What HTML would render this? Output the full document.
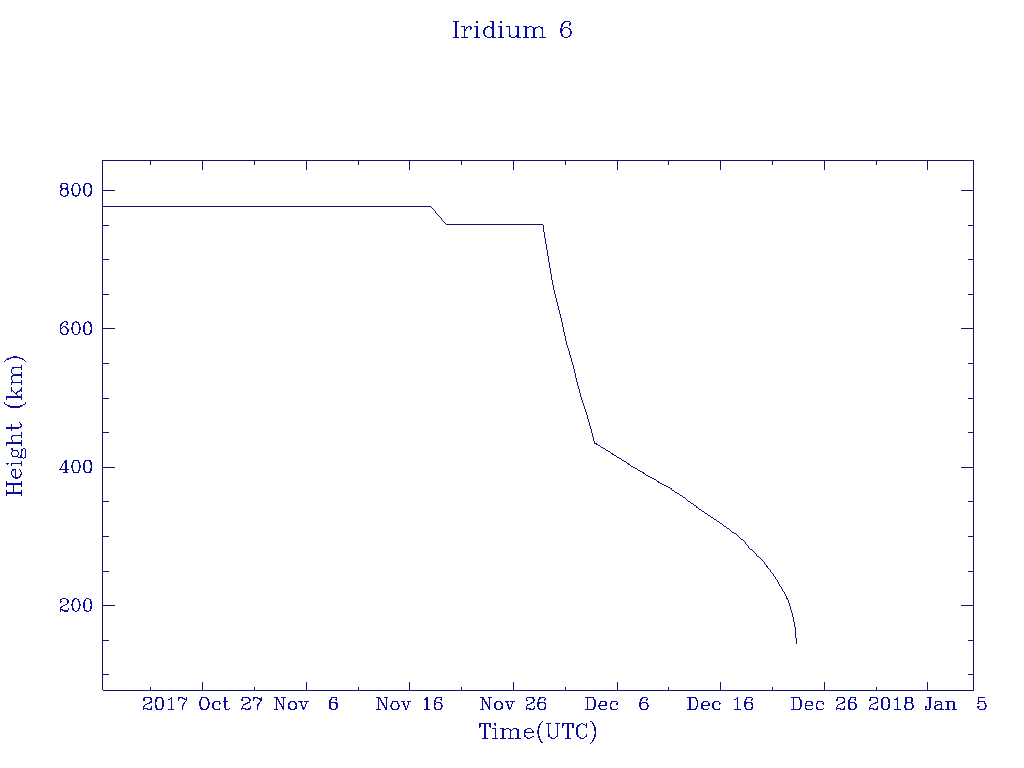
<!DOCTYPE html>
<html><head><meta charset="utf-8"><title>Iridium 6</title>
<style>
html,body{margin:0;padding:0;background:#fff;}
body{width:1024px;height:768px;overflow:hidden;position:relative;font-family:"Liberation Serif",serif;}
svg{position:absolute;left:0;top:0;}
.t span{position:absolute;color:transparent;white-space:pre;line-height:1;overflow:hidden;}
</style></head><body>
<svg width="1024" height="768" viewBox="0 0 1024 768">
<rect width="1024" height="768" fill="#fff"/>
<g fill="none" stroke="#141070" stroke-width="1" stroke-linecap="square" shape-rendering="crispEdges">
<path d="M102.5 160V690 M102 160.5H974 M973.5 160V691 M103 690.5H974 M150.5 161V165 M150.5 687V690 M202.5 161V170 M202.5 682V690 M254.5 161V165 M254.5 687V690 M306.5 161V170 M306.5 682V690 M358.5 161V165 M358.5 687V690 M409.5 161V170 M409.5 682V690 M461.5 161V165 M461.5 687V690 M513.5 161V170 M513.5 682V690 M565.5 161V165 M565.5 687V690 M617.5 161V170 M617.5 682V690 M668.5 161V165 M668.5 687V690 M720.5 161V170 M720.5 682V690 M772.5 161V165 M772.5 687V690 M824.5 161V170 M824.5 682V690 M876.5 161V165 M876.5 687V690 M927.5 161V170 M927.5 682V690 M103 190.5H115 M961 190.5H973 M103 225.5H109 M968 225.5H973 M103 259.5H109 M968 259.5H973 M103 294.5H109 M968 294.5H973 M103 328.5H115 M961 328.5H973 M103 363.5H109 M968 363.5H973 M103 398.5H109 M968 398.5H973 M103 432.5H109 M968 432.5H973 M103 467.5H115 M961 467.5H973 M103 501.5H109 M968 501.5H973 M103 536.5H109 M968 536.5H973 M103 571.5H109 M968 571.5H973 M103 605.5H115 M961 605.5H973 M103 640.5H109 M968 640.5H973 M103 674.5H109 M968 674.5H973" stroke-linecap="butt"/>
</g>
<path d="M102 206.001L431 206.001L431 207.001L102 207.001zM431.001 206L447.001 225L446.001 225L430.001 206zM446 224.001L543 224.001L543 225.001L446 225.001zM542 224.001L544 225.001L544 226.001L542 225.001zM594 443.001L597 443.401L597 444.401L594 444.001zM596 443.401L613 453.401L613 454.401L596 444.401zM612 453.401L629 463.501L629 464.501L612 454.401zM628 463.501L643.500 472.401L643.500 473.401L628 464.501zM642.500 472.401L659 481.401L659 482.401L642.500 473.401zM658 481.401L671.500 488.301L671.500 489.301L658 482.401zM670.500 488.301L687 499.001L687 500.001L670.500 489.301zM686 499.001L696.500 505.901L696.500 506.901L686 500.001zM695.500 505.901L724.200 525.001L724.200 526.001L695.500 506.901zM723.200 525.001L731.100 530.101L731.100 531.101L723.200 526.001zM730.100 530.101L738.400 535.201L738.400 536.201L730.100 531.101zM737.400 535.201L744.200 540.701L744.200 541.701L737.400 536.201zM744.201 540.700L750.001 548.200L749.001 548.200L743.201 540.700zM749 547.201L757.300 554.501L757.300 555.501L749 548.201zM756.300 554.501L763.900 561.101L763.900 562.101L756.300 555.501zM763.901 561.100L767.901 567.200L766.901 567.200L762.901 561.100zM767.901 566.200L768.801 568.800L767.801 568.800L766.901 566.200zM768.801 567.800L773.101 573.900L772.101 573.900L767.801 567.800zM773.101 572.900L775.251 577.250L774.251 577.250L772.101 572.900zM775.251 576.250L784.001 591.900L783.001 591.900L774.251 576.250zM784.001 590.900L785.901 595.400L784.901 595.400L783.001 590.900zM785.901 594.400L787.401 598.800L786.401 598.800L784.901 594.400zM787.401 597.800L789.001 601.600L788.001 601.600L786.401 597.800zM789.001 600.600L790.251 606L789.251 606L788.001 600.600zM790.251 605L791.001 608L790.001 608L789.251 605zM543 225h1v7h-1zM544 232h1v6h-1zM545 238h1v6h-1zM546 244h1v6h-1zM547 250h1v6h-1zM548 256h1v6h-1zM549 262h1v6h-1zM550 268h1v6h-1zM551 274h1v6h-1zM552 280h1v5h-1zM553 285h1v5h-1zM554 290h1v4h-1zM555 294h1v4h-1zM556 298h1v4h-1zM557 302h1v4h-1zM558 306h1v4h-1zM559 310h1v4h-1zM560 314h1v4h-1zM561 318h1v4h-1zM562 322h1v5h-1zM563 327h1v5h-1zM564 332h1v4h-1zM565 336h1v5h-1zM566 341h1v4h-1zM567 345h1v3h-1zM568 348h1v3h-1zM569 351h1v4h-1zM570 355h1v3h-1zM571 358h1v4h-1zM572 362h1v3h-1zM573 365h1v4h-1zM574 369h1v4h-1zM575 373h1v5h-1zM576 378h1v4h-1zM577 382h1v4h-1zM578 386h1v3h-1zM579 389h1v4h-1zM580 393h1v4h-1zM581 397h1v3h-1zM582 400h1v3h-1zM583 403h1v3h-1zM584 406h1v3h-1zM585 409h1v3h-1zM586 412h1v3h-1zM587 415h1v4h-1zM588 419h1v3h-1zM589 422h1v4h-1zM590 426h1v3h-1zM591 429h1v4h-1zM592 433h1v4h-1zM593 437h1v4h-1zM594 441h1v3h-1zM790 608h1v2h-1zM791 610h1v3h-1zM792 613h1v4h-1zM793 617h1v5h-1zM794 622h1v5h-1zM795 627h1v11h-1zM796 638h1v6h-1z" fill="#141070" shape-rendering="crispEdges"/>
<path d="M456.351 20.851L456.351 38L455.351 38L455.351 20.851zM457.101 20.851L457.101 38L456.101 38L456.101 20.851zM453.100 20.852L459.350 20.852L459.350 21.852L453.100 21.852zM453.100 37.001L459.350 37.001L459.350 38.001L453.100 38.001zM464.601 26.234L464.601 38L463.601 38L463.601 26.234zM465.351 26.234L465.351 38L464.351 38L464.351 26.234zM466.101 28.541L465.351 31.848L464.351 31.848L465.101 28.541zM467.601 27.003L466.101 29.541L465.101 29.541L466.601 27.003zM466.600 27.004L469.100 26.235L469.100 27.235L466.600 28.004zM468.100 26.235L471.350 26.235L471.350 27.235L468.100 27.235zM471.351 26.234L472.101 28.003L471.101 28.003L470.351 26.234zM472.101 27.003L472.101 28.772L471.101 28.772L471.101 27.003zM472.101 27.772L471.351 29.541L470.351 29.541L471.101 27.772zM470.601 27.772L471.351 29.541L470.351 29.541L469.601 27.772zM471.351 27.003L470.601 28.772L469.601 28.772L470.351 27.003zM461.350 26.235L465.350 26.235L465.350 27.235L461.350 27.235zM461.350 37.001L467.600 37.001L467.600 38.001L461.350 38.001zM477.351 20.851L476.601 22.620L475.601 22.620L476.351 20.851zM476.601 21.620L477.351 23.389L476.351 23.389L475.601 21.620zM478.101 21.620L477.351 23.389L476.351 23.389L477.101 21.620zM477.351 20.851L478.101 22.620L477.101 22.620L476.351 20.851zM477.351 26.234L477.351 38L476.351 38L476.351 26.234zM478.101 26.234L478.101 38L477.101 38L477.101 26.234zM474.100 26.235L478.100 26.235L478.100 27.235L474.100 27.235zM474.100 37.001L480.350 37.001L480.350 38.001L474.100 38.001zM493.101 20.851L493.101 38L492.101 38L492.101 20.851zM493.851 20.851L493.851 38L492.851 38L492.851 20.851zM491.601 27.003L493.101 29.541L492.101 29.541L490.601 27.003zM489.100 26.235L491.600 27.004L491.600 28.004L489.100 27.235zM487.600 26.235L490.100 26.235L490.100 27.235L487.600 27.235zM485.350 27.004L488.600 26.235L488.600 27.235L485.350 28.004zM486.351 27.003L484.851 29.541L483.851 29.541L485.351 27.003zM484.851 28.541L484.101 31.848L483.101 31.848L483.851 28.541zM484.101 30.848L484.101 33.386L483.101 33.386L483.101 30.848zM484.101 32.386L484.851 35.693L483.851 35.693L483.101 32.386zM484.851 34.693L486.351 37.231L485.351 37.231L483.851 34.693zM485.350 36.232L488.600 37.001L488.600 38.001L485.350 37.232zM487.600 37.001L490.100 37.001L490.100 38.001L487.600 38.001zM489.100 37.001L491.600 36.232L491.600 37.232L489.100 38.001zM493.101 34.693L491.601 37.231L490.601 37.231L492.101 34.693zM486.100 27.004L488.600 26.235L488.600 27.235L486.100 28.004zM487.101 27.003L485.601 29.541L484.601 29.541L486.101 27.003zM485.601 28.541L484.851 31.848L483.851 31.848L484.601 28.541zM484.851 30.848L484.851 33.386L483.851 33.386L483.851 30.848zM484.851 32.386L485.601 35.693L484.601 35.693L483.851 32.386zM485.601 34.693L487.101 37.231L486.101 37.231L484.601 34.693zM486.100 36.232L488.600 37.001L488.600 38.001L486.100 37.232zM489.850 20.852L493.850 20.852L493.850 21.852L489.850 21.852zM492.100 37.001L496.100 37.001L496.100 38.001L492.100 38.001zM501.351 20.851L500.601 22.620L499.601 22.620L500.351 20.851zM500.601 21.620L501.351 23.389L500.351 23.389L499.601 21.620zM502.101 21.620L501.351 23.389L500.351 23.389L501.101 21.620zM501.351 20.851L502.101 22.620L501.101 22.620L500.351 20.851zM501.351 26.234L501.351 38L500.351 38L500.351 26.234zM502.101 26.234L502.101 38L501.101 38L501.101 26.234zM498.100 26.235L502.100 26.235L502.100 27.235L498.100 27.235zM498.100 37.001L504.350 37.001L504.350 38.001L498.100 38.001zM509.601 26.234L509.601 35.693L508.601 35.693L508.601 26.234zM509.601 34.693L510.351 37.231L509.351 37.231L508.601 34.693zM509.350 36.232L512.600 37.001L512.600 38.001L509.350 37.232zM511.600 37.001L514.100 37.001L514.100 38.001L511.600 38.001zM513.100 37.001L516.350 36.232L516.350 37.232L513.100 38.001zM517.851 34.693L516.351 37.231L515.351 37.231L516.851 34.693zM510.351 26.234L510.351 35.693L509.351 35.693L509.351 26.234zM510.351 34.693L511.101 37.231L510.101 37.231L509.351 34.693zM510.100 36.232L512.600 37.001L512.600 38.001L510.100 37.232zM517.851 26.234L517.851 38L516.851 38L516.851 26.234zM518.601 26.234L518.601 38L517.601 38L517.601 26.234zM506.350 26.235L510.350 26.235L510.350 27.235L506.350 27.235zM514.600 26.235L518.600 26.235L518.600 27.235L514.600 27.235zM516.850 37.001L520.850 37.001L520.850 38.001L516.850 38.001zM526.101 26.234L526.101 38L525.101 38L525.101 26.234zM526.851 26.234L526.851 38L525.851 38L525.851 26.234zM528.351 27.003L526.851 29.541L525.851 29.541L527.351 27.003zM527.350 27.004L530.600 26.235L530.600 27.235L527.350 28.004zM529.600 26.235L532.100 26.235L532.100 27.235L529.600 27.235zM531.100 26.235L534.350 27.004L534.350 28.004L531.100 27.235zM534.351 27.003L535.101 29.541L534.101 29.541L533.351 27.003zM535.101 28.541L535.101 38L534.101 38L534.101 28.541zM531.100 26.235L533.600 27.004L533.600 28.004L531.100 27.235zM533.601 27.003L534.351 29.541L533.351 29.541L532.601 27.003zM534.351 28.541L534.351 38L533.351 38L533.351 28.541zM536.601 27.003L535.101 29.541L534.101 29.541L535.601 27.003zM535.600 27.004L538.850 26.235L538.850 27.235L535.600 28.004zM537.850 26.235L540.350 26.235L540.350 27.235L537.850 27.235zM539.350 26.235L542.600 27.004L542.600 28.004L539.350 27.235zM542.601 27.003L543.351 29.541L542.351 29.541L541.601 27.003zM543.351 28.541L543.351 38L542.351 38L542.351 28.541zM539.350 26.235L541.850 27.004L541.850 28.004L539.350 27.235zM541.851 27.003L542.601 29.541L541.601 29.541L540.851 27.003zM542.601 28.541L542.601 38L541.601 38L541.601 28.541zM522.850 26.235L526.850 26.235L526.850 27.235L522.850 27.235zM522.850 37.001L529.100 37.001L529.100 38.001L522.850 38.001zM531.100 37.001L537.350 37.001L537.350 38.001L531.100 38.001zM539.350 37.001L545.600 37.001L545.600 38.001L539.350 38.001zM570.351 23.158L569.601 24.927L568.601 24.927L569.351 23.158zM569.601 23.927L570.351 25.696L569.351 25.696L568.601 23.927zM571.101 23.927L570.351 25.696L569.351 25.696L570.101 23.927zM571.101 23.158L571.101 24.927L570.101 24.927L570.101 23.158zM570.351 21.620L571.101 24.158L570.101 24.158L569.351 21.620zM567.850 20.852L570.350 21.621L570.350 22.621L567.850 21.852zM565.600 20.852L568.850 20.852L568.850 21.852L565.600 21.852zM563.350 21.621L566.600 20.852L566.600 21.852L563.350 22.621zM564.351 21.620L562.851 24.158L561.851 24.158L563.351 21.620zM562.851 23.158L562.101 25.696L561.101 25.696L561.851 23.158zM562.101 24.696L561.351 28.772L560.351 28.772L561.101 24.696zM561.351 27.772L561.351 33.386L560.351 33.386L560.351 27.772zM561.351 32.386L562.101 35.693L561.101 35.693L560.351 32.386zM562.101 34.693L563.601 37.231L562.601 37.231L561.101 34.693zM562.600 36.232L565.850 37.001L565.850 38.001L562.600 37.232zM564.850 37.001L567.350 37.001L567.350 38.001L564.850 38.001zM566.350 37.001L569.600 36.232L569.600 37.232L566.350 38.001zM571.101 34.693L569.601 37.231L568.601 37.231L570.101 34.693zM571.851 32.386L571.101 35.693L570.101 35.693L570.851 32.386zM571.851 31.617L571.851 33.386L570.851 33.386L570.851 31.617zM571.101 29.310L571.851 32.617L570.851 32.617L570.101 29.310zM569.601 27.772L571.101 30.310L570.101 30.310L568.601 27.772zM566.350 27.004L569.600 27.773L569.600 28.773L566.350 28.004zM565.600 27.004L567.350 27.004L567.350 28.004L565.600 28.004zM563.350 27.773L566.600 27.004L566.600 28.004L563.350 28.773zM564.351 27.772L562.851 30.310L561.851 30.310L563.351 27.772zM562.851 29.310L562.101 32.617L561.101 32.617L561.851 29.310zM564.100 21.621L566.600 20.852L566.600 21.852L564.100 22.621zM565.101 21.620L563.601 24.158L562.601 24.158L564.101 21.620zM563.601 23.158L562.851 25.696L561.851 25.696L562.601 23.158zM562.851 24.696L562.101 28.772L561.101 28.772L561.851 24.696zM562.101 27.772L562.101 33.386L561.101 33.386L561.101 27.772zM562.101 32.386L562.851 35.693L561.851 35.693L561.101 32.386zM562.851 34.693L564.351 37.231L563.351 37.231L561.851 34.693zM563.350 36.232L565.850 37.001L565.850 38.001L563.350 37.232zM566.350 37.001L568.850 36.232L568.850 37.232L566.350 38.001zM570.351 34.693L568.851 37.231L567.851 37.231L569.351 34.693zM571.101 32.386L570.351 35.693L569.351 35.693L570.101 32.386zM571.101 31.617L571.101 33.386L570.101 33.386L570.101 31.617zM570.351 29.310L571.101 32.617L570.101 32.617L569.351 29.310zM568.851 27.772L570.351 30.310L569.351 30.310L567.851 27.772zM566.350 27.004L568.850 27.773L568.850 28.773L566.350 28.004zM485.211 723.310L485.211 738.800L484.211 738.800L484.211 723.310zM485.901 723.310L485.901 738.800L484.901 738.800L484.901 723.310zM481.071 723.310L480.381 728.450L479.381 728.450L480.071 723.310zM480.381 723.310L480.381 728.450L479.381 728.450L479.381 723.310zM479.380 723.311L490.730 723.311L490.730 724.311L479.380 724.311zM490.731 723.310L490.731 728.450L489.731 728.450L489.731 723.310zM490.041 723.310L490.731 728.450L489.731 728.450L489.041 723.310zM482.140 737.801L487.970 737.801L487.970 738.801L482.140 738.801zM495.561 723.310L494.871 725L493.871 725L494.561 723.310zM493.870 724.001L495.560 724.691L495.560 725.691L493.870 725.001zM494.560 724.691L496.250 724.001L496.250 725.001L494.560 725.691zM495.561 723.310L496.251 725L495.251 725L494.561 723.310zM495.561 728.140L495.561 738.800L494.561 738.800L494.561 728.140zM496.251 728.140L496.251 738.800L495.251 738.800L495.251 728.140zM492.490 728.141L496.250 728.141L496.250 729.141L492.490 729.141zM492.490 737.801L498.320 737.801L498.320 738.801L492.490 738.801zM503.151 728.140L503.151 738.800L502.151 738.800L502.151 728.140zM503.841 728.140L503.841 738.800L502.841 738.800L502.841 728.140zM502.840 730.211L505.220 728.831L505.220 729.831L502.840 731.211zM504.220 728.831L507.290 728.141L507.290 729.141L504.220 729.831zM506.290 728.141L508.670 728.141L508.670 729.141L506.290 729.141zM507.670 728.141L510.740 728.831L510.740 729.831L507.670 729.141zM510.741 728.830L511.431 731.210L510.431 731.210L509.741 728.830zM511.431 730.210L511.431 738.800L510.431 738.800L510.431 730.210zM507.670 728.141L510.050 728.831L510.050 729.831L507.670 729.141zM510.051 728.830L510.741 731.210L509.741 731.210L509.051 728.830zM510.741 730.210L510.741 738.800L509.741 738.800L509.741 730.210zM510.430 730.211L512.810 728.831L512.810 729.831L510.430 731.211zM511.810 728.831L514.880 728.141L514.880 729.141L511.810 729.831zM513.880 728.141L516.260 728.141L516.260 729.141L513.880 729.141zM515.260 728.141L518.330 728.831L518.330 729.831L515.260 729.141zM518.331 728.830L519.021 731.210L518.021 731.210L517.331 728.830zM519.021 730.210L519.021 738.800L518.021 738.800L518.021 730.210zM515.260 728.141L517.640 728.831L517.640 729.831L515.260 729.141zM517.641 728.830L518.331 731.210L517.331 731.210L516.641 728.830zM518.331 730.210L518.331 738.800L517.331 738.800L517.331 730.210zM500.080 728.141L503.840 728.141L503.840 729.141L500.080 729.141zM500.080 737.801L505.910 737.801L505.910 738.801L500.080 738.801zM507.670 737.801L513.500 737.801L513.500 738.801L507.670 738.801zM515.260 737.801L521.090 737.801L521.090 738.801L515.260 738.801zM524.230 732.281L533.510 732.281L533.510 733.281L524.230 733.281zM533.511 730.900L533.511 733.280L532.511 733.280L532.511 730.900zM532.821 729.520L533.511 731.900L532.511 731.900L531.821 729.520zM532.131 728.830L532.821 730.520L531.821 730.520L531.131 728.830zM529.750 728.141L532.130 728.831L532.130 729.831L529.750 729.141zM527.680 728.141L530.750 728.141L530.750 729.141L527.680 729.141zM525.610 728.831L528.680 728.141L528.680 729.141L525.610 729.831zM524.230 730.211L526.610 728.831L526.610 729.831L524.230 731.211zM525.231 730.210L524.541 733.280L523.541 733.280L524.231 730.210zM524.541 732.280L524.541 734.660L523.541 734.660L523.541 732.280zM524.541 733.660L525.231 736.730L524.231 736.730L523.541 733.660zM524.230 735.731L526.610 737.111L526.610 738.111L524.230 736.731zM525.610 737.111L528.680 737.801L528.680 738.801L525.610 738.111zM527.680 737.801L530.060 737.801L530.060 738.801L527.680 738.801zM529.060 737.801L532.130 737.111L532.130 738.111L529.060 738.801zM531.130 737.111L533.510 735.731L533.510 736.731L531.130 738.111zM532.821 730.210L532.821 733.280L531.821 733.280L531.821 730.210zM532.131 728.830L532.821 731.210L531.821 731.210L531.131 728.830zM526.300 728.831L528.680 728.141L528.680 729.141L526.300 729.831zM524.920 730.211L527.300 728.831L527.300 729.831L524.920 731.211zM525.921 730.210L525.231 733.280L524.231 733.280L524.921 730.210zM525.231 732.280L525.231 734.660L524.231 734.660L524.231 732.280zM525.231 733.660L525.921 736.730L524.921 736.730L524.231 733.660zM524.920 735.731L527.300 737.111L527.300 738.111L524.920 736.731zM526.300 737.111L528.680 737.801L528.680 738.801L526.300 738.111zM540.790 721.931L543.170 720.551L543.170 721.551L540.790 722.931zM541.791 721.930L540.411 725L539.411 725L540.791 721.930zM540.411 724L539.031 727.760L538.031 727.760L539.411 724zM539.031 726.760L538.341 731.210L537.341 731.210L538.031 726.760zM538.341 730.210L538.341 733.970L537.341 733.970L537.341 730.210zM538.341 732.970L539.031 737.420L538.031 737.420L537.341 732.970zM539.031 736.420L540.411 740.180L539.411 740.180L538.031 736.420zM540.411 739.180L541.791 742.250L540.791 742.250L539.411 739.180zM540.790 741.251L543.170 742.631L543.170 743.631L540.790 742.251zM541.791 721.930L540.411 725.690L539.411 725.690L540.791 721.930zM540.411 724.690L539.721 727.760L538.721 727.760L539.411 724.690zM539.721 726.760L539.031 731.210L538.031 731.210L538.721 726.760zM539.031 730.210L539.031 733.970L538.031 733.970L538.031 730.210zM539.031 732.970L539.721 737.420L538.721 737.420L538.031 732.970zM539.721 736.420L540.411 739.490L539.411 739.490L538.721 736.420zM540.411 738.490L541.791 742.250L540.791 742.250L539.411 738.490zM548.691 723.310L548.691 734.660L547.691 734.660L547.691 723.310zM548.691 733.660L549.381 736.730L548.381 736.730L547.691 733.660zM548.380 735.731L550.760 737.111L550.760 738.111L548.380 736.731zM549.760 737.111L552.830 737.801L552.830 738.801L549.760 738.111zM551.830 737.801L554.210 737.801L554.210 738.801L551.830 738.801zM553.210 737.801L556.280 737.111L556.280 738.111L553.210 738.801zM555.280 737.111L557.660 735.731L557.660 736.731L555.280 738.111zM558.351 733.660L557.661 736.730L556.661 736.730L557.351 733.660zM558.351 723.310L558.351 734.660L557.351 734.660L557.351 723.310zM549.381 723.310L549.381 734.660L548.381 734.660L548.381 723.310zM549.381 733.660L550.071 736.730L549.071 736.730L548.381 733.660zM549.070 735.731L551.450 737.111L551.450 738.111L549.070 736.731zM550.450 737.111L552.830 737.801L552.830 738.801L550.450 738.111zM545.620 723.311L551.450 723.311L551.450 724.311L545.620 724.311zM555.280 723.311L560.420 723.311L560.420 724.311L555.280 724.311zM568.011 723.310L568.011 738.800L567.011 738.800L567.011 723.310zM568.701 723.310L568.701 738.800L567.701 738.800L567.701 723.310zM563.871 723.310L563.181 728.450L562.181 728.450L562.871 723.310zM563.181 723.310L563.181 728.450L562.181 728.450L562.181 723.310zM562.180 723.311L573.530 723.311L573.530 724.311L562.180 724.311zM573.531 723.310L573.531 728.450L572.531 728.450L572.531 723.310zM572.841 723.310L573.531 728.450L572.531 728.450L571.841 723.310zM564.940 737.801L570.770 737.801L570.770 738.801L564.940 738.801zM586.641 725.380L587.331 728.450L586.331 728.450L585.641 725.380zM587.331 723.310L587.331 728.450L586.331 728.450L586.331 723.310zM587.331 723.310L586.641 726.380L585.641 726.380L586.331 723.310zM584.260 724.001L586.640 725.381L586.640 726.381L584.260 725.001zM582.190 723.311L585.260 724.001L585.260 725.001L582.190 724.311zM580.810 723.311L583.190 723.311L583.190 724.311L580.810 724.311zM578.740 724.001L581.810 723.311L581.810 724.311L578.740 725.001zM577.360 725.381L579.740 724.001L579.740 725.001L577.360 726.381zM578.361 725.380L577.671 727.760L576.671 727.760L577.361 725.380zM577.671 726.760L576.981 729.830L575.981 729.830L576.671 726.760zM576.981 728.830L576.981 733.280L575.981 733.280L575.981 728.830zM576.981 732.280L577.671 735.350L576.671 735.350L575.981 732.280zM577.671 734.350L578.361 736.730L577.361 736.730L576.671 734.350zM577.360 735.731L579.740 737.111L579.740 738.111L577.360 736.731zM578.740 737.111L581.810 737.801L581.810 738.801L578.740 738.111zM580.810 737.801L583.190 737.801L583.190 738.801L580.810 738.801zM582.190 737.801L585.260 737.111L585.260 738.111L582.190 738.801zM584.260 737.111L586.640 735.731L586.640 736.731L584.260 738.111zM587.331 734.350L586.641 736.730L585.641 736.730L586.331 734.350zM579.430 724.001L581.810 723.311L581.810 724.311L579.430 725.001zM578.050 725.381L580.430 724.001L580.430 725.001L578.050 726.381zM579.051 725.380L578.361 727.760L577.361 727.760L578.051 725.380zM578.361 726.760L577.671 729.830L576.671 729.830L577.361 726.760zM577.671 728.830L577.671 733.280L576.671 733.280L576.671 728.830zM577.671 732.280L578.361 735.350L577.361 735.350L576.671 732.280zM578.361 734.350L579.051 736.730L578.051 736.730L577.361 734.350zM578.050 735.731L580.430 737.111L580.430 738.111L578.050 736.731zM579.430 737.111L581.810 737.801L581.810 738.801L579.430 738.111zM590.470 720.551L592.850 721.931L592.850 722.931L590.470 721.551zM592.851 721.930L594.231 725L593.231 725L591.851 721.930zM594.231 724L595.611 727.760L594.611 727.760L593.231 724zM595.611 726.760L596.301 731.210L595.301 731.210L594.611 726.760zM596.301 730.210L596.301 733.970L595.301 733.970L595.301 730.210zM596.301 732.970L595.611 737.420L594.611 737.420L595.301 732.970zM595.611 736.420L594.231 740.180L593.231 740.180L594.611 736.420zM594.231 739.180L592.851 742.250L591.851 742.250L593.231 739.180zM590.470 742.631L592.850 741.251L592.850 742.251L590.470 743.631zM592.851 721.930L594.231 725.690L593.231 725.690L591.851 721.930zM594.231 724.690L594.921 727.760L593.921 727.760L593.231 724.690zM594.921 726.760L595.611 731.210L594.611 731.210L593.921 726.760zM595.611 730.210L595.611 733.970L594.611 733.970L594.611 730.210zM595.611 732.970L594.921 737.420L593.921 737.420L594.611 732.970zM594.921 736.420L594.231 739.490L593.231 739.490L593.921 736.420zM594.231 738.490L592.851 742.250L591.851 742.250L593.231 738.490zM6.315 492.726L21.700 492.726L21.700 493.726L6.315 493.726zM6.315 492.041L21.700 492.041L21.700 493.041L6.315 493.041zM6.315 483.821L21.700 483.821L21.700 484.821L6.315 484.821zM6.315 483.136L21.700 483.136L21.700 484.136L6.315 484.136zM7.316 489.985L7.316 495.780L6.316 495.780L6.316 489.985zM7.316 481.080L7.316 486.875L6.316 486.875L6.316 481.080zM14.166 483.820L14.166 493.040L13.166 493.040L13.166 483.820zM21.701 489.985L21.701 495.780L20.701 495.780L20.701 489.985zM21.701 481.080L21.701 486.875L20.701 486.875L20.701 481.080zM16.221 468.750L16.221 477.970L15.221 477.970L15.221 468.750zM13.850 468.751L16.220 468.751L16.220 469.751L13.850 469.751zM12.480 469.436L14.850 468.751L14.850 469.751L12.480 470.436zM13.481 469.435L12.796 471.120L11.796 471.120L12.481 469.435zM12.796 470.120L12.111 472.490L11.111 472.490L11.796 470.120zM12.111 471.490L12.111 474.545L11.111 474.545L11.111 471.490zM12.111 473.545L12.796 476.600L11.796 476.600L11.111 473.545zM12.796 475.600L14.166 477.970L13.166 477.970L11.796 475.600zM13.165 476.971L16.220 477.656L16.220 478.656L13.165 477.971zM15.220 477.656L17.590 477.656L17.590 478.656L15.220 478.656zM16.590 477.656L19.645 476.971L19.645 477.971L16.590 478.656zM21.016 475.600L19.646 477.970L18.646 477.970L20.016 475.600zM21.701 473.545L21.016 476.600L20.016 476.600L20.701 473.545zM21.701 472.175L21.701 474.545L20.701 474.545L20.701 472.175zM21.016 470.120L21.701 473.175L20.701 473.175L20.016 470.120zM19.646 468.750L21.016 471.120L20.016 471.120L18.646 468.750zM13.165 469.436L16.220 469.436L16.220 470.436L13.165 470.436zM11.795 470.121L14.165 469.436L14.165 470.436L11.795 471.121zM12.111 473.545L12.796 475.915L11.796 475.915L11.111 473.545zM12.796 474.915L14.166 477.285L13.166 477.285L11.796 474.915zM13.165 476.286L16.220 476.971L16.220 477.971L13.165 477.286zM15.220 476.971L17.590 476.971L17.590 477.971L15.220 477.971zM16.590 476.971L19.645 476.286L19.645 477.286L16.590 477.971zM21.016 474.915L19.646 477.285L18.646 477.285L20.016 474.915zM21.701 473.545L21.016 475.915L20.016 475.915L20.701 473.545zM7.316 463.270L8.001 464.955L7.001 464.955L6.316 463.270zM8.686 463.270L8.001 464.955L7.001 464.955L7.686 463.270zM8.001 462.585L8.686 464.270L7.686 464.270L7.001 462.585zM8.001 462.585L7.316 464.270L6.316 464.270L7.001 462.585zM11.110 463.271L21.700 463.271L21.700 464.271L11.110 464.271zM11.110 462.586L21.700 462.586L21.700 463.586L11.110 463.586zM12.111 462.585L12.111 466.325L11.111 466.325L11.111 462.585zM21.701 460.530L21.701 466.325L20.701 466.325L20.701 460.530zM12.111 453.680L12.796 456.050L11.796 456.050L11.111 453.680zM12.796 455.050L13.481 456.735L12.481 456.735L11.796 455.050zM12.480 455.736L14.850 456.421L14.850 457.421L12.480 456.736zM13.850 456.421L16.220 456.421L16.220 457.421L13.850 457.421zM15.220 456.421L17.590 455.736L17.590 456.736L15.220 457.421zM18.276 455.050L17.591 456.735L16.591 456.735L17.276 455.050zM18.961 453.680L18.276 456.050L17.276 456.050L17.961 453.680zM18.961 452.310L18.961 454.680L17.961 454.680L17.961 452.310zM18.276 450.940L18.961 453.310L17.961 453.310L17.276 450.940zM17.591 450.255L18.276 451.940L17.276 451.940L16.591 450.255zM15.220 449.571L17.590 450.256L17.590 451.256L15.220 450.571zM13.850 449.571L16.220 449.571L16.220 450.571L13.850 450.571zM12.480 450.256L14.850 449.571L14.850 450.571L12.480 451.256zM13.481 450.255L12.796 451.940L11.796 451.940L12.481 450.255zM12.796 450.940L12.111 453.310L11.111 453.310L11.796 450.940zM12.111 452.310L12.111 454.680L11.111 454.680L11.111 452.310zM11.795 455.051L14.165 455.736L14.165 456.736L11.795 456.051zM13.165 455.736L16.905 455.736L16.905 456.736L13.165 456.736zM15.905 455.736L18.275 455.051L18.275 456.051L15.905 456.736zM15.905 450.256L18.275 450.941L18.275 451.941L15.905 451.256zM13.165 450.256L16.905 450.256L16.905 451.256L13.165 451.256zM11.795 450.941L14.165 450.256L14.165 451.256L11.795 451.941zM12.796 449.570L13.481 451.255L12.481 451.255L11.796 449.570zM12.111 448.200L12.796 450.570L11.796 450.570L11.111 448.200zM11.110 448.201L12.795 448.201L12.795 449.201L11.110 449.201zM12.796 448.200L12.796 450.570L11.796 450.570L11.796 448.200zM17.591 455.735L18.276 457.420L17.276 457.420L16.591 455.735zM17.275 456.421L19.645 457.106L19.645 458.106L17.275 457.421zM18.645 457.106L20.330 457.106L20.330 458.106L18.645 458.106zM19.330 457.106L21.700 456.421L21.700 457.421L19.330 458.106zM22.386 454.365L21.701 457.420L20.701 457.420L21.386 454.365zM22.386 450.940L22.386 455.365L21.386 455.365L21.386 450.940zM23.071 448.885L22.386 451.940L21.386 451.940L22.071 448.885zM23.756 448.200L23.071 449.885L22.071 449.885L22.756 448.200zM19.330 457.106L21.015 456.421L21.015 457.421L19.330 458.106zM21.701 454.365L21.016 457.420L20.016 457.420L20.701 454.365zM21.701 450.940L21.701 455.365L20.701 455.365L20.701 450.940zM22.386 448.885L21.701 451.940L20.701 451.940L21.386 448.885zM21.385 448.886L23.755 448.201L23.755 449.201L21.385 449.886zM22.755 448.201L24.440 448.201L24.440 449.201L22.755 449.201zM23.440 448.201L25.810 448.886L25.810 449.886L23.440 449.201zM25.811 448.885L26.496 451.940L25.496 451.940L24.811 448.885zM26.496 450.940L26.496 456.050L25.496 456.050L25.496 450.940zM26.496 455.050L25.811 458.105L24.811 458.105L25.496 455.050zM23.440 457.791L25.810 457.106L25.810 458.106L23.440 458.791zM22.755 457.791L24.440 457.791L24.440 458.791L22.755 458.791zM21.385 457.106L23.755 457.791L23.755 458.791L21.385 458.106zM21.701 455.050L22.386 458.105L21.386 458.105L20.701 455.050zM6.315 442.721L21.700 442.721L21.700 443.721L6.315 443.721zM6.315 442.036L21.700 442.036L21.700 443.036L6.315 443.036zM12.796 440.665L14.166 443.035L13.166 443.035L11.796 440.665zM12.111 438.610L12.796 441.665L11.796 441.665L11.111 438.610zM12.111 437.240L12.111 439.610L11.111 439.610L11.111 437.240zM12.796 435.185L12.111 438.240L11.111 438.240L11.796 435.185zM11.795 435.186L14.165 434.501L14.165 435.501L11.795 436.186zM13.165 434.501L21.700 434.501L21.700 435.501L13.165 435.501zM12.796 435.870L12.111 438.240L11.111 438.240L11.796 435.870zM11.795 435.871L14.165 435.186L14.165 436.186L11.795 436.871zM13.165 435.186L21.700 435.186L21.700 436.186L13.165 436.186zM7.316 442.035L7.316 445.775L6.316 445.775L6.316 442.035zM21.701 439.980L21.701 445.775L20.701 445.775L20.701 439.980zM21.701 432.445L21.701 438.240L20.701 438.240L20.701 432.445zM6.315 427.651L18.960 427.651L18.960 428.651L6.315 428.651zM17.960 427.651L21.015 426.966L21.015 427.966L17.960 428.651zM21.701 425.595L21.016 427.965L20.016 427.965L20.701 425.595zM21.701 424.225L21.701 426.595L20.701 426.595L20.701 424.225zM21.016 422.855L21.701 425.225L20.701 425.225L20.016 422.855zM18.645 422.171L21.015 422.856L21.015 423.856L18.645 423.171zM6.315 426.966L18.960 426.966L18.960 427.966L6.315 427.966zM17.960 426.966L21.015 426.281L21.015 427.281L17.960 427.966zM21.701 425.595L21.016 427.280L20.016 427.280L20.701 425.595zM12.111 424.225L12.111 430.705L11.111 430.705L11.111 424.225zM4.576 402.305L5.946 404.675L4.946 404.675L3.576 402.305zM4.945 403.676L8 405.046L8 406.046L4.945 404.676zM7 405.046L10.740 406.416L10.740 407.416L7 406.046zM9.740 406.416L14.165 407.101L14.165 408.101L9.740 407.416zM13.165 407.101L16.905 407.101L16.905 408.101L13.165 408.101zM15.905 407.101L20.330 406.416L20.330 407.416L15.905 408.101zM19.330 406.416L23.070 405.046L23.070 406.046L19.330 407.416zM22.070 405.046L25.125 403.676L25.125 404.676L22.070 406.046zM26.496 402.305L25.126 404.675L24.126 404.675L25.496 402.305zM4.945 403.676L8.685 405.046L8.685 406.046L4.945 404.676zM7.685 405.046L10.740 405.731L10.740 406.731L7.685 406.046zM9.740 405.731L14.165 406.416L14.165 407.416L9.740 406.731zM13.165 406.416L16.905 406.416L16.905 407.416L13.165 407.416zM15.905 406.416L20.330 405.731L20.330 406.731L15.905 407.416zM19.330 405.731L22.385 405.046L22.385 406.046L19.330 406.731zM21.385 405.046L25.125 403.676L25.125 404.676L21.385 406.046zM6.315 396.826L21.700 396.826L21.700 397.826L6.315 397.826zM6.315 396.141L21.700 396.141L21.700 397.141L6.315 397.141zM12.111 389.290L18.961 397.140L17.961 397.140L11.111 389.290zM15.220 392.716L21.700 388.606L21.700 389.606L15.220 393.716zM15.220 393.401L21.700 389.291L21.700 390.291L15.220 394.401zM7.316 396.140L7.316 399.880L6.316 399.880L6.316 396.140zM12.111 387.235L12.111 392.345L11.111 392.345L11.111 387.235zM21.701 394.085L21.701 399.880L20.701 399.880L20.701 394.085zM21.701 387.235L21.701 392.345L20.701 392.345L20.701 387.235zM11.110 382.441L21.700 382.441L21.700 383.441L11.110 383.441zM11.110 381.756L21.700 381.756L21.700 382.756L11.110 382.756zM12.796 380.385L14.166 382.755L13.166 382.755L11.796 380.385zM12.111 378.330L12.796 381.385L11.796 381.385L11.111 378.330zM12.111 376.960L12.111 379.330L11.111 379.330L11.111 376.960zM12.796 374.905L12.111 377.960L11.111 377.960L11.796 374.905zM11.795 374.906L14.165 374.221L14.165 375.221L11.795 375.906zM13.165 374.221L21.700 374.221L21.700 375.221L13.165 375.221zM12.796 375.590L12.111 377.960L11.111 377.960L11.796 375.590zM11.795 375.591L14.165 374.906L14.165 375.906L11.795 376.591zM13.165 374.906L21.700 374.906L21.700 375.906L13.165 375.906zM12.796 372.850L14.166 375.220L13.166 375.220L11.796 372.850zM12.111 370.795L12.796 373.850L11.796 373.850L11.111 370.795zM12.111 369.425L12.111 371.795L11.111 371.795L11.111 369.425zM12.796 367.370L12.111 370.425L11.111 370.425L11.796 367.370zM11.795 367.371L14.165 366.686L14.165 367.686L11.795 368.371zM13.165 366.686L21.700 366.686L21.700 367.686L13.165 367.686zM12.796 368.055L12.111 370.425L11.111 370.425L11.796 368.055zM11.795 368.056L14.165 367.371L14.165 368.371L11.795 369.056zM13.165 367.371L21.700 367.371L21.700 368.371L13.165 368.371zM12.111 381.755L12.111 385.495L11.111 385.495L11.111 381.755zM21.701 379.700L21.701 385.495L20.701 385.495L20.701 379.700zM21.701 372.165L21.701 377.960L20.701 377.960L20.701 372.165zM21.701 364.630L21.701 370.425L20.701 370.425L20.701 364.630zM3.575 361.206L5.945 359.836L5.945 360.836L3.575 362.206zM4.945 359.836L8 358.466L8 359.466L4.945 360.836zM7 358.466L10.740 357.096L10.740 358.096L7 359.466zM9.740 357.096L14.165 356.411L14.165 357.411L9.740 358.096zM13.165 356.411L16.905 356.411L16.905 357.411L13.165 357.411zM15.905 356.411L20.330 357.096L20.330 358.096L15.905 357.411zM19.330 357.096L23.070 358.466L23.070 359.466L19.330 358.096zM22.070 358.466L25.125 359.836L25.125 360.836L22.070 359.466zM24.125 359.836L26.495 361.206L26.495 362.206L24.125 360.836zM4.945 359.836L8.685 358.466L8.685 359.466L4.945 360.836zM7.685 358.466L10.740 357.781L10.740 358.781L7.685 359.466zM9.740 357.781L14.165 357.096L14.165 358.096L9.740 358.781zM13.165 357.096L16.905 357.096L16.905 358.096L13.165 358.096zM15.905 357.096L20.330 357.781L20.330 358.781L15.905 358.096zM19.330 357.781L22.385 358.466L22.385 359.466L19.330 358.781zM21.385 358.466L25.125 359.836L25.125 360.836L21.385 359.466zM61.241 600.600L61.826 602.200L60.826 602.200L60.241 600.600zM61.826 601.200L61.241 602.800L60.241 602.800L60.826 601.200zM60.656 601.200L61.241 602.800L60.241 602.800L59.656 601.200zM60.656 600.600L60.656 602.200L59.656 602.200L59.656 600.600zM61.241 599.400L60.656 601.600L59.656 601.600L60.241 599.400zM61.826 598.800L61.241 600.400L60.241 600.400L60.826 598.800zM60.825 598.801L63.580 598.201L63.580 599.201L60.825 599.801zM62.580 598.201L65.920 598.201L65.920 599.201L62.580 599.201zM64.920 598.201L67.675 598.801L67.675 599.801L64.920 599.201zM67.676 598.800L68.261 600.400L67.261 600.400L66.676 598.800zM68.261 599.400L68.846 601.600L67.846 601.600L67.261 599.400zM68.846 600.600L68.846 602.800L67.846 602.800L67.846 600.600zM68.846 601.800L68.261 604L67.261 604L67.846 601.800zM65.505 604.201L68.260 603.001L68.260 604.001L65.505 605.201zM62.580 605.401L66.505 604.201L66.505 605.201L62.580 606.401zM61.410 606.001L63.580 605.401L63.580 606.401L61.410 607.001zM62.411 606L61.241 608.200L60.241 608.200L61.411 606zM61.241 607.200L60.656 610L59.656 610L60.241 607.200zM60.656 609L60.656 611.800L59.656 611.800L59.656 609zM64.920 598.201L67.090 598.801L67.090 599.801L64.920 599.201zM67.091 598.800L67.676 600.400L66.676 600.400L66.091 598.800zM67.676 599.400L68.261 601.600L67.261 601.600L66.676 599.400zM68.261 600.600L68.261 602.800L67.261 602.800L67.261 600.600zM68.261 601.800L67.676 604L66.676 604L67.261 601.800zM64.920 604.201L67.675 603.001L67.675 604.001L64.920 605.201zM62.580 605.401L65.920 604.201L65.920 605.201L62.580 606.401zM61.241 609L60.656 610.600L59.656 610.600L60.241 609zM60.240 609.001L62.410 609.001L62.410 610.001L60.240 610.001zM61.410 609.001L65.335 610.201L65.335 611.201L61.410 610.001zM64.335 610.201L67.090 610.201L67.090 611.201L64.335 611.201zM66.090 610.201L68.260 609.601L68.260 610.601L66.090 611.201zM68.846 609L68.261 610.600L67.261 610.600L67.846 609zM61.410 609.001L65.335 610.801L65.335 611.801L61.410 610.001zM64.335 610.801L67.675 610.801L67.675 611.801L64.335 611.801zM68.261 610.200L67.676 611.800L66.676 611.800L67.261 610.200zM68.846 609L68.261 611.200L67.261 611.200L67.846 609zM68.846 607.800L68.846 610L67.846 610L67.846 607.800zM73.110 598.801L75.865 598.201L75.865 599.201L73.110 599.801zM74.111 598.800L72.941 601.600L71.941 601.600L73.111 598.800zM72.941 600.600L72.356 604.600L71.356 604.600L71.941 600.600zM72.356 603.600L72.356 606.400L71.356 606.400L71.356 603.600zM72.356 605.400L72.941 609.400L71.941 609.400L71.356 605.400zM72.941 608.400L74.111 611.200L73.111 611.200L71.941 608.400zM73.110 610.201L75.865 610.801L75.865 611.801L73.110 611.201zM74.865 610.801L77.035 610.801L77.035 611.801L74.865 611.801zM76.035 610.801L78.790 610.201L78.790 611.201L76.035 611.801zM79.961 608.400L78.791 611.200L77.791 611.200L78.961 608.400zM80.546 605.400L79.961 609.400L78.961 609.400L79.546 605.400zM80.546 603.600L80.546 606.400L79.546 606.400L79.546 603.600zM79.961 600.600L80.546 604.600L79.546 604.600L78.961 600.600zM78.791 598.800L79.961 601.600L78.961 601.600L77.791 598.800zM76.035 598.201L78.790 598.801L78.790 599.801L76.035 599.201zM74.865 598.201L77.035 598.201L77.035 599.201L74.865 599.201zM73.695 598.801L75.865 598.201L75.865 599.201L73.695 599.801zM74.696 598.800L74.111 600.400L73.111 600.400L73.696 598.800zM74.111 599.400L73.526 601.600L72.526 601.600L73.111 599.400zM73.526 600.600L72.941 604.600L71.941 604.600L72.526 600.600zM72.941 603.600L72.941 606.400L71.941 606.400L71.941 603.600zM72.941 605.400L73.526 609.400L72.526 609.400L71.941 605.400zM73.526 608.400L74.111 610.600L73.111 610.600L72.526 608.400zM74.111 609.600L74.696 611.200L73.696 611.200L73.111 609.600zM73.695 610.201L75.865 610.801L75.865 611.801L73.695 611.201zM76.035 610.801L78.205 610.201L78.205 611.201L76.035 611.801zM78.791 609.600L78.206 611.200L77.206 611.200L77.791 609.600zM79.376 608.400L78.791 610.600L77.791 610.600L78.376 608.400zM79.961 605.400L79.376 609.400L78.376 609.400L78.961 605.400zM79.961 603.600L79.961 606.400L78.961 606.400L78.961 603.600zM79.376 600.600L79.961 604.600L78.961 604.600L78.376 600.600zM78.791 599.400L79.376 601.600L78.376 601.600L77.791 599.400zM78.206 598.800L78.791 600.400L77.791 600.400L77.206 598.800zM76.035 598.201L78.205 598.801L78.205 599.801L76.035 599.201zM84.810 598.801L87.565 598.201L87.565 599.201L84.810 599.801zM85.811 598.800L84.641 601.600L83.641 601.600L84.811 598.800zM84.641 600.600L84.056 604.600L83.056 604.600L83.641 600.600zM84.056 603.600L84.056 606.400L83.056 606.400L83.056 603.600zM84.056 605.400L84.641 609.400L83.641 609.400L83.056 605.400zM84.641 608.400L85.811 611.200L84.811 611.200L83.641 608.400zM84.810 610.201L87.565 610.801L87.565 611.801L84.810 611.201zM86.565 610.801L88.735 610.801L88.735 611.801L86.565 611.801zM87.735 610.801L90.490 610.201L90.490 611.201L87.735 611.801zM91.661 608.400L90.491 611.200L89.491 611.200L90.661 608.400zM92.246 605.400L91.661 609.400L90.661 609.400L91.246 605.400zM92.246 603.600L92.246 606.400L91.246 606.400L91.246 603.600zM91.661 600.600L92.246 604.600L91.246 604.600L90.661 600.600zM90.491 598.800L91.661 601.600L90.661 601.600L89.491 598.800zM87.735 598.201L90.490 598.801L90.490 599.801L87.735 599.201zM86.565 598.201L88.735 598.201L88.735 599.201L86.565 599.201zM85.395 598.801L87.565 598.201L87.565 599.201L85.395 599.801zM86.396 598.800L85.811 600.400L84.811 600.400L85.396 598.800zM85.811 599.400L85.226 601.600L84.226 601.600L84.811 599.400zM85.226 600.600L84.641 604.600L83.641 604.600L84.226 600.600zM84.641 603.600L84.641 606.400L83.641 606.400L83.641 603.600zM84.641 605.400L85.226 609.400L84.226 609.400L83.641 605.400zM85.226 608.400L85.811 610.600L84.811 610.600L84.226 608.400zM85.811 609.600L86.396 611.200L85.396 611.200L84.811 609.600zM85.395 610.201L87.565 610.801L87.565 611.801L85.395 611.201zM87.735 610.801L89.905 610.201L89.905 611.201L87.735 611.801zM90.491 609.600L89.906 611.200L88.906 611.200L89.491 609.600zM91.076 608.400L90.491 610.600L89.491 610.600L90.076 608.400zM91.661 605.400L91.076 609.400L90.076 609.400L90.661 605.400zM91.661 603.600L91.661 606.400L90.661 606.400L90.661 603.600zM91.076 600.600L91.661 604.600L90.661 604.600L90.076 600.600zM90.491 599.400L91.076 601.600L90.076 601.600L89.491 599.400zM89.906 598.800L90.491 600.400L89.491 600.400L88.906 598.800zM87.735 598.201L89.905 598.801L89.905 599.801L87.735 599.201zM65.921 461L65.921 473.400L64.921 473.400L64.921 461zM66.506 459.800L66.506 473.400L65.506 473.400L65.506 459.800zM66.506 459.800L60.071 469.800L59.071 469.800L65.506 459.800zM59.070 468.801L69.430 468.801L69.430 469.801L59.070 469.801zM63.165 472.401L68.260 472.401L68.260 473.401L63.165 473.401zM73.110 460.401L75.865 459.801L75.865 460.801L73.110 461.401zM74.111 460.400L72.941 463.200L71.941 463.200L73.111 460.400zM72.941 462.200L72.356 466.200L71.356 466.200L71.941 462.200zM72.356 465.200L72.356 468L71.356 468L71.356 465.200zM72.356 467L72.941 471L71.941 471L71.356 467zM72.941 470L74.111 472.800L73.111 472.800L71.941 470zM73.110 471.801L75.865 472.401L75.865 473.401L73.110 472.801zM74.865 472.401L77.035 472.401L77.035 473.401L74.865 473.401zM76.035 472.401L78.790 471.801L78.790 472.801L76.035 473.401zM79.961 470L78.791 472.800L77.791 472.800L78.961 470zM80.546 467L79.961 471L78.961 471L79.546 467zM80.546 465.200L80.546 468L79.546 468L79.546 465.200zM79.961 462.200L80.546 466.200L79.546 466.200L78.961 462.200zM78.791 460.400L79.961 463.200L78.961 463.200L77.791 460.400zM76.035 459.801L78.790 460.401L78.790 461.401L76.035 460.801zM74.865 459.801L77.035 459.801L77.035 460.801L74.865 460.801zM73.695 460.401L75.865 459.801L75.865 460.801L73.695 461.401zM74.696 460.400L74.111 462L73.111 462L73.696 460.400zM74.111 461L73.526 463.200L72.526 463.200L73.111 461zM73.526 462.200L72.941 466.200L71.941 466.200L72.526 462.200zM72.941 465.200L72.941 468L71.941 468L71.941 465.200zM72.941 467L73.526 471L72.526 471L71.941 467zM73.526 470L74.111 472.200L73.111 472.200L72.526 470zM74.111 471.200L74.696 472.800L73.696 472.800L73.111 471.200zM73.695 471.801L75.865 472.401L75.865 473.401L73.695 472.801zM76.035 472.401L78.205 471.801L78.205 472.801L76.035 473.401zM78.791 471.200L78.206 472.800L77.206 472.800L77.791 471.200zM79.376 470L78.791 472.200L77.791 472.200L78.376 470zM79.961 467L79.376 471L78.376 471L78.961 467zM79.961 465.200L79.961 468L78.961 468L78.961 465.200zM79.376 462.200L79.961 466.200L78.961 466.200L78.376 462.200zM78.791 461L79.376 463.200L78.376 463.200L77.791 461zM78.206 460.400L78.791 462L77.791 462L77.206 460.400zM76.035 459.801L78.205 460.401L78.205 461.401L76.035 460.801zM84.810 460.401L87.565 459.801L87.565 460.801L84.810 461.401zM85.811 460.400L84.641 463.200L83.641 463.200L84.811 460.400zM84.641 462.200L84.056 466.200L83.056 466.200L83.641 462.200zM84.056 465.200L84.056 468L83.056 468L83.056 465.200zM84.056 467L84.641 471L83.641 471L83.056 467zM84.641 470L85.811 472.800L84.811 472.800L83.641 470zM84.810 471.801L87.565 472.401L87.565 473.401L84.810 472.801zM86.565 472.401L88.735 472.401L88.735 473.401L86.565 473.401zM87.735 472.401L90.490 471.801L90.490 472.801L87.735 473.401zM91.661 470L90.491 472.800L89.491 472.800L90.661 470zM92.246 467L91.661 471L90.661 471L91.246 467zM92.246 465.200L92.246 468L91.246 468L91.246 465.200zM91.661 462.200L92.246 466.200L91.246 466.200L90.661 462.200zM90.491 460.400L91.661 463.200L90.661 463.200L89.491 460.400zM87.735 459.801L90.490 460.401L90.490 461.401L87.735 460.801zM86.565 459.801L88.735 459.801L88.735 460.801L86.565 460.801zM85.395 460.401L87.565 459.801L87.565 460.801L85.395 461.401zM86.396 460.400L85.811 462L84.811 462L85.396 460.400zM85.811 461L85.226 463.200L84.226 463.200L84.811 461zM85.226 462.200L84.641 466.200L83.641 466.200L84.226 462.200zM84.641 465.200L84.641 468L83.641 468L83.641 465.200zM84.641 467L85.226 471L84.226 471L83.641 467zM85.226 470L85.811 472.200L84.811 472.200L84.226 470zM85.811 471.200L86.396 472.800L85.396 472.800L84.811 471.200zM85.395 471.801L87.565 472.401L87.565 473.401L85.395 472.801zM87.735 472.401L89.905 471.801L89.905 472.801L87.735 473.401zM90.491 471.200L89.906 472.800L88.906 472.800L89.491 471.200zM91.076 470L90.491 472.200L89.491 472.200L90.076 470zM91.661 467L91.076 471L90.076 471L90.661 467zM91.661 465.200L91.661 468L90.661 468L90.661 465.200zM91.076 462.200L91.661 466.200L90.661 466.200L90.076 462.200zM90.491 461L91.076 463.200L90.076 463.200L89.491 461zM89.906 460.400L90.491 462L89.491 462L88.906 460.400zM87.735 459.801L89.905 460.401L89.905 461.401L87.735 460.801zM67.676 323.200L67.091 324.800L66.091 324.800L66.676 323.200zM67.091 323.800L67.676 325.400L66.676 325.400L66.091 323.800zM68.261 323.800L67.676 325.400L66.676 325.400L67.261 323.800zM68.261 323.200L68.261 324.800L67.261 324.800L67.261 323.200zM67.676 322L68.261 324.200L67.261 324.200L66.676 322zM65.505 321.401L67.675 322.001L67.675 323.001L65.505 322.401zM63.750 321.401L66.505 321.401L66.505 322.401L63.750 322.401zM61.995 322.001L64.750 321.401L64.750 322.401L61.995 323.001zM62.996 322L61.826 324.200L60.826 324.200L61.996 322zM61.826 323.200L61.241 325.400L60.241 325.400L60.826 323.200zM61.241 324.400L60.656 327.800L59.656 327.800L60.241 324.400zM60.656 326.800L60.656 331.400L59.656 331.400L59.656 326.800zM60.656 330.400L61.241 333.200L60.241 333.200L59.656 330.400zM61.241 332.200L62.411 334.400L61.411 334.400L60.241 332.200zM61.410 333.401L64.165 334.001L64.165 335.001L61.410 334.401zM63.165 334.001L65.335 334.001L65.335 335.001L63.165 335.001zM64.335 334.001L67.090 333.401L67.090 334.401L64.335 335.001zM68.261 332.200L67.091 334.400L66.091 334.400L67.261 332.200zM68.846 330.400L68.261 333.200L67.261 333.200L67.846 330.400zM68.846 329.800L68.846 331.400L67.846 331.400L67.846 329.800zM68.261 328L68.846 330.800L67.846 330.800L67.261 328zM67.091 326.800L68.261 329L67.261 329L66.091 326.800zM64.335 326.201L67.090 326.801L67.090 327.801L64.335 327.201zM63.750 326.201L65.335 326.201L65.335 327.201L63.750 327.201zM61.995 326.801L64.750 326.201L64.750 327.201L61.995 327.801zM62.996 326.800L61.826 329L60.826 329L61.996 326.800zM61.826 328L61.241 330.800L60.241 330.800L60.826 328zM62.580 322.001L64.750 321.401L64.750 322.401L62.580 323.001zM63.581 322L62.411 324.200L61.411 324.200L62.581 322zM62.411 323.200L61.826 325.400L60.826 325.400L61.411 323.200zM61.826 324.400L61.241 327.800L60.241 327.800L60.826 324.400zM61.241 326.800L61.241 331.400L60.241 331.400L60.241 326.800zM61.241 330.400L61.826 333.200L60.826 333.200L60.241 330.400zM61.826 332.200L62.996 334.400L61.996 334.400L60.826 332.200zM61.995 333.401L64.165 334.001L64.165 335.001L61.995 334.401zM64.335 334.001L66.505 333.401L66.505 334.401L64.335 335.001zM67.676 332.200L66.506 334.400L65.506 334.400L66.676 332.200zM68.261 330.400L67.676 333.200L66.676 333.200L67.261 330.400zM68.261 329.800L68.261 331.400L67.261 331.400L67.261 329.800zM67.676 328L68.261 330.800L67.261 330.800L66.676 328zM66.506 326.800L67.676 329L66.676 329L65.506 326.800zM64.335 326.201L66.505 326.801L66.505 327.801L64.335 327.201zM73.110 322.001L75.865 321.401L75.865 322.401L73.110 323.001zM74.111 322L72.941 324.800L71.941 324.800L73.111 322zM72.941 323.800L72.356 327.800L71.356 327.800L71.941 323.800zM72.356 326.800L72.356 329.600L71.356 329.600L71.356 326.800zM72.356 328.600L72.941 332.600L71.941 332.600L71.356 328.600zM72.941 331.600L74.111 334.400L73.111 334.400L71.941 331.600zM73.110 333.401L75.865 334.001L75.865 335.001L73.110 334.401zM74.865 334.001L77.035 334.001L77.035 335.001L74.865 335.001zM76.035 334.001L78.790 333.401L78.790 334.401L76.035 335.001zM79.961 331.600L78.791 334.400L77.791 334.400L78.961 331.600zM80.546 328.600L79.961 332.600L78.961 332.600L79.546 328.600zM80.546 326.800L80.546 329.600L79.546 329.600L79.546 326.800zM79.961 323.800L80.546 327.800L79.546 327.800L78.961 323.800zM78.791 322L79.961 324.800L78.961 324.800L77.791 322zM76.035 321.401L78.790 322.001L78.790 323.001L76.035 322.401zM74.865 321.401L77.035 321.401L77.035 322.401L74.865 322.401zM73.695 322.001L75.865 321.401L75.865 322.401L73.695 323.001zM74.696 322L74.111 323.600L73.111 323.600L73.696 322zM74.111 322.600L73.526 324.800L72.526 324.800L73.111 322.600zM73.526 323.800L72.941 327.800L71.941 327.800L72.526 323.800zM72.941 326.800L72.941 329.600L71.941 329.600L71.941 326.800zM72.941 328.600L73.526 332.600L72.526 332.600L71.941 328.600zM73.526 331.600L74.111 333.800L73.111 333.800L72.526 331.600zM74.111 332.800L74.696 334.400L73.696 334.400L73.111 332.800zM73.695 333.401L75.865 334.001L75.865 335.001L73.695 334.401zM76.035 334.001L78.205 333.401L78.205 334.401L76.035 335.001zM78.791 332.800L78.206 334.400L77.206 334.400L77.791 332.800zM79.376 331.600L78.791 333.800L77.791 333.800L78.376 331.600zM79.961 328.600L79.376 332.600L78.376 332.600L78.961 328.600zM79.961 326.800L79.961 329.600L78.961 329.600L78.961 326.800zM79.376 323.800L79.961 327.800L78.961 327.800L78.376 323.800zM78.791 322.600L79.376 324.800L78.376 324.800L77.791 322.600zM78.206 322L78.791 323.600L77.791 323.600L77.206 322zM76.035 321.401L78.205 322.001L78.205 323.001L76.035 322.401zM84.810 322.001L87.565 321.401L87.565 322.401L84.810 323.001zM85.811 322L84.641 324.800L83.641 324.800L84.811 322zM84.641 323.800L84.056 327.800L83.056 327.800L83.641 323.800zM84.056 326.800L84.056 329.600L83.056 329.600L83.056 326.800zM84.056 328.600L84.641 332.600L83.641 332.600L83.056 328.600zM84.641 331.600L85.811 334.400L84.811 334.400L83.641 331.600zM84.810 333.401L87.565 334.001L87.565 335.001L84.810 334.401zM86.565 334.001L88.735 334.001L88.735 335.001L86.565 335.001zM87.735 334.001L90.490 333.401L90.490 334.401L87.735 335.001zM91.661 331.600L90.491 334.400L89.491 334.400L90.661 331.600zM92.246 328.600L91.661 332.600L90.661 332.600L91.246 328.600zM92.246 326.800L92.246 329.600L91.246 329.600L91.246 326.800zM91.661 323.800L92.246 327.800L91.246 327.800L90.661 323.800zM90.491 322L91.661 324.800L90.661 324.800L89.491 322zM87.735 321.401L90.490 322.001L90.490 323.001L87.735 322.401zM86.565 321.401L88.735 321.401L88.735 322.401L86.565 322.401zM85.395 322.001L87.565 321.401L87.565 322.401L85.395 323.001zM86.396 322L85.811 323.600L84.811 323.600L85.396 322zM85.811 322.600L85.226 324.800L84.226 324.800L84.811 322.600zM85.226 323.800L84.641 327.800L83.641 327.800L84.226 323.800zM84.641 326.800L84.641 329.600L83.641 329.600L83.641 326.800zM84.641 328.600L85.226 332.600L84.226 332.600L83.641 328.600zM85.226 331.600L85.811 333.800L84.811 333.800L84.226 331.600zM85.811 332.800L86.396 334.400L85.396 334.400L84.811 332.800zM85.395 333.401L87.565 334.001L87.565 335.001L85.395 334.401zM87.735 334.001L89.905 333.401L89.905 334.401L87.735 335.001zM90.491 332.800L89.906 334.400L88.906 334.400L89.491 332.800zM91.076 331.600L90.491 333.800L89.491 333.800L90.076 331.600zM91.661 328.600L91.076 332.600L90.076 332.600L90.661 328.600zM91.661 326.800L91.661 329.600L90.661 329.600L90.661 326.800zM91.076 323.800L91.661 327.800L90.661 327.800L90.076 323.800zM90.491 322.600L91.076 324.800L90.076 324.800L89.491 322.600zM89.906 322L90.491 323.600L89.491 323.600L88.906 322zM87.735 321.401L89.905 322.001L89.905 323.001L87.735 322.401zM60.825 183.601L63.580 183.001L63.580 184.001L60.825 184.601zM61.826 183.600L61.241 185.800L60.241 185.800L60.826 183.600zM61.241 184.800L61.241 187.600L60.241 187.600L60.241 184.800zM61.241 186.600L61.826 188.800L60.826 188.800L60.241 186.600zM60.825 187.801L63.580 188.401L63.580 189.401L60.825 188.801zM62.580 188.401L65.920 188.401L65.920 189.401L62.580 189.401zM64.920 188.401L67.675 187.801L67.675 188.801L64.920 189.401zM68.261 186.600L67.676 188.800L66.676 188.800L67.261 186.600zM68.261 184.800L68.261 187.600L67.261 187.600L67.261 184.800zM67.676 183.600L68.261 185.800L67.261 185.800L66.676 183.600zM64.920 183.001L67.675 183.601L67.675 184.601L64.920 184.001zM62.580 183.001L65.920 183.001L65.920 184.001L62.580 184.001zM61.410 183.601L63.580 183.001L63.580 184.001L61.410 184.601zM62.411 183.600L61.826 185.800L60.826 185.800L61.411 183.600zM61.826 184.800L61.826 187.600L60.826 187.600L60.826 184.800zM61.826 186.600L62.411 188.800L61.411 188.800L60.826 186.600zM61.410 187.801L63.580 188.401L63.580 189.401L61.410 188.801zM64.920 188.401L67.090 187.801L67.090 188.801L64.920 189.401zM67.676 186.600L67.091 188.800L66.091 188.800L66.676 186.600zM67.676 184.800L67.676 187.600L66.676 187.600L66.676 184.800zM67.091 183.600L67.676 185.800L66.676 185.800L66.091 183.600zM64.920 183.001L67.090 183.601L67.090 184.601L64.920 184.001zM60.825 189.001L63.580 188.401L63.580 189.401L60.825 190.001zM61.826 189L61.241 190.600L60.241 190.600L60.826 189zM61.241 189.600L60.656 191.800L59.656 191.800L60.241 189.600zM60.656 190.800L60.656 194.200L59.656 194.200L59.656 190.800zM60.656 193.200L61.241 195.400L60.241 195.400L59.656 193.200zM61.241 194.400L61.826 196L60.826 196L60.241 194.400zM60.825 195.001L63.580 195.601L63.580 196.601L60.825 196.001zM62.580 195.601L65.920 195.601L65.920 196.601L62.580 196.601zM64.920 195.601L67.675 195.001L67.675 196.001L64.920 196.601zM68.261 194.400L67.676 196L66.676 196L67.261 194.400zM68.846 193.200L68.261 195.400L67.261 195.400L67.846 193.200zM68.846 190.800L68.846 194.200L67.846 194.200L67.846 190.800zM68.261 189.600L68.846 191.800L67.846 191.800L67.261 189.600zM67.676 189L68.261 190.600L67.261 190.600L66.676 189zM64.920 188.401L67.675 189.001L67.675 190.001L64.920 189.401zM61.410 189.001L63.580 188.401L63.580 189.401L61.410 190.001zM62.411 189L61.826 190.600L60.826 190.600L61.411 189zM61.826 189.600L61.241 191.800L60.241 191.800L60.826 189.600zM61.241 190.800L61.241 194.200L60.241 194.200L60.241 190.800zM61.241 193.200L61.826 195.400L60.826 195.400L60.241 193.200zM61.826 194.400L62.411 196L61.411 196L60.826 194.400zM61.410 195.001L63.580 195.601L63.580 196.601L61.410 196.001zM64.920 195.601L67.090 195.001L67.090 196.001L64.920 196.601zM67.676 194.400L67.091 196L66.091 196L66.676 194.400zM68.261 193.200L67.676 195.400L66.676 195.400L67.261 193.200zM68.261 190.800L68.261 194.200L67.261 194.200L67.261 190.800zM67.676 189.600L68.261 191.800L67.261 191.800L66.676 189.600zM67.091 189L67.676 190.600L66.676 190.600L66.091 189zM64.920 188.401L67.090 189.001L67.090 190.001L64.920 189.401zM73.110 183.601L75.865 183.001L75.865 184.001L73.110 184.601zM74.111 183.600L72.941 186.400L71.941 186.400L73.111 183.600zM72.941 185.400L72.356 189.400L71.356 189.400L71.941 185.400zM72.356 188.400L72.356 191.200L71.356 191.200L71.356 188.400zM72.356 190.200L72.941 194.200L71.941 194.200L71.356 190.200zM72.941 193.200L74.111 196L73.111 196L71.941 193.200zM73.110 195.001L75.865 195.601L75.865 196.601L73.110 196.001zM74.865 195.601L77.035 195.601L77.035 196.601L74.865 196.601zM76.035 195.601L78.790 195.001L78.790 196.001L76.035 196.601zM79.961 193.200L78.791 196L77.791 196L78.961 193.200zM80.546 190.200L79.961 194.200L78.961 194.200L79.546 190.200zM80.546 188.400L80.546 191.200L79.546 191.200L79.546 188.400zM79.961 185.400L80.546 189.400L79.546 189.400L78.961 185.400zM78.791 183.600L79.961 186.400L78.961 186.400L77.791 183.600zM76.035 183.001L78.790 183.601L78.790 184.601L76.035 184.001zM74.865 183.001L77.035 183.001L77.035 184.001L74.865 184.001zM73.695 183.601L75.865 183.001L75.865 184.001L73.695 184.601zM74.696 183.600L74.111 185.200L73.111 185.200L73.696 183.600zM74.111 184.200L73.526 186.400L72.526 186.400L73.111 184.200zM73.526 185.400L72.941 189.400L71.941 189.400L72.526 185.400zM72.941 188.400L72.941 191.200L71.941 191.200L71.941 188.400zM72.941 190.200L73.526 194.200L72.526 194.200L71.941 190.200zM73.526 193.200L74.111 195.400L73.111 195.400L72.526 193.200zM74.111 194.400L74.696 196L73.696 196L73.111 194.400zM73.695 195.001L75.865 195.601L75.865 196.601L73.695 196.001zM76.035 195.601L78.205 195.001L78.205 196.001L76.035 196.601zM78.791 194.400L78.206 196L77.206 196L77.791 194.400zM79.376 193.200L78.791 195.400L77.791 195.400L78.376 193.200zM79.961 190.200L79.376 194.200L78.376 194.200L78.961 190.200zM79.961 188.400L79.961 191.200L78.961 191.200L78.961 188.400zM79.376 185.400L79.961 189.400L78.961 189.400L78.376 185.400zM78.791 184.200L79.376 186.400L78.376 186.400L77.791 184.200zM78.206 183.600L78.791 185.200L77.791 185.200L77.206 183.600zM76.035 183.001L78.205 183.601L78.205 184.601L76.035 184.001zM84.810 183.601L87.565 183.001L87.565 184.001L84.810 184.601zM85.811 183.600L84.641 186.400L83.641 186.400L84.811 183.600zM84.641 185.400L84.056 189.400L83.056 189.400L83.641 185.400zM84.056 188.400L84.056 191.200L83.056 191.200L83.056 188.400zM84.056 190.200L84.641 194.200L83.641 194.200L83.056 190.200zM84.641 193.200L85.811 196L84.811 196L83.641 193.200zM84.810 195.001L87.565 195.601L87.565 196.601L84.810 196.001zM86.565 195.601L88.735 195.601L88.735 196.601L86.565 196.601zM87.735 195.601L90.490 195.001L90.490 196.001L87.735 196.601zM91.661 193.200L90.491 196L89.491 196L90.661 193.200zM92.246 190.200L91.661 194.200L90.661 194.200L91.246 190.200zM92.246 188.400L92.246 191.200L91.246 191.200L91.246 188.400zM91.661 185.400L92.246 189.400L91.246 189.400L90.661 185.400zM90.491 183.600L91.661 186.400L90.661 186.400L89.491 183.600zM87.735 183.001L90.490 183.601L90.490 184.601L87.735 184.001zM86.565 183.001L88.735 183.001L88.735 184.001L86.565 184.001zM85.395 183.601L87.565 183.001L87.565 184.001L85.395 184.601zM86.396 183.600L85.811 185.200L84.811 185.200L85.396 183.600zM85.811 184.200L85.226 186.400L84.226 186.400L84.811 184.200zM85.226 185.400L84.641 189.400L83.641 189.400L84.226 185.400zM84.641 188.400L84.641 191.200L83.641 191.200L83.641 188.400zM84.641 190.200L85.226 194.200L84.226 194.200L83.641 190.200zM85.226 193.200L85.811 195.400L84.811 195.400L84.226 193.200zM85.811 194.400L86.396 196L85.396 196L84.811 194.400zM85.395 195.001L87.565 195.601L87.565 196.601L85.395 196.001zM87.735 195.601L89.905 195.001L89.905 196.001L87.735 196.601zM90.491 194.400L89.906 196L88.906 196L89.491 194.400zM91.076 193.200L90.491 195.400L89.491 195.400L90.076 193.200zM91.661 190.200L91.076 194.200L90.076 194.200L90.661 190.200zM91.661 188.400L91.661 191.200L90.661 191.200L90.661 188.400zM91.076 185.400L91.661 189.400L90.661 189.400L90.076 185.400zM90.491 184.200L91.076 186.400L90.076 186.400L89.491 184.200zM89.906 183.600L90.491 185.200L89.491 185.200L88.906 183.600zM87.735 183.001L89.905 183.601L89.905 184.601L87.735 184.001zM144.641 699.100L145.226 700.700L144.226 700.700L143.641 699.100zM145.226 699.700L144.641 701.300L143.641 701.300L144.226 699.700zM144.056 699.700L144.641 701.300L143.641 701.300L143.056 699.700zM144.056 699.100L144.056 700.700L143.056 700.700L143.056 699.100zM144.641 697.900L144.056 700.100L143.056 700.100L143.641 697.900zM145.226 697.300L144.641 698.900L143.641 698.900L144.226 697.300zM144.225 697.301L146.980 696.701L146.980 697.701L144.225 698.301zM145.980 696.701L149.320 696.701L149.320 697.701L145.980 697.701zM148.320 696.701L151.075 697.301L151.075 698.301L148.320 697.701zM151.076 697.300L151.661 698.900L150.661 698.900L150.076 697.300zM151.661 697.900L152.246 700.100L151.246 700.100L150.661 697.900zM152.246 699.100L152.246 701.300L151.246 701.300L151.246 699.100zM152.246 700.300L151.661 702.500L150.661 702.500L151.246 700.300zM148.905 702.701L151.660 701.501L151.660 702.501L148.905 703.701zM145.980 703.901L149.905 702.701L149.905 703.701L145.980 704.901zM144.810 704.501L146.980 703.901L146.980 704.901L144.810 705.501zM145.811 704.500L144.641 706.700L143.641 706.700L144.811 704.500zM144.641 705.700L144.056 708.500L143.056 708.500L143.641 705.700zM144.056 707.500L144.056 710.300L143.056 710.300L143.056 707.500zM148.320 696.701L150.490 697.301L150.490 698.301L148.320 697.701zM150.491 697.300L151.076 698.900L150.076 698.900L149.491 697.300zM151.076 697.900L151.661 700.100L150.661 700.100L150.076 697.900zM151.661 699.100L151.661 701.300L150.661 701.300L150.661 699.100zM151.661 700.300L151.076 702.500L150.076 702.500L150.661 700.300zM148.320 702.701L151.075 701.501L151.075 702.501L148.320 703.701zM145.980 703.901L149.320 702.701L149.320 703.701L145.980 704.901zM144.641 707.500L144.056 709.100L143.056 709.100L143.641 707.500zM143.640 707.501L145.810 707.501L145.810 708.501L143.640 708.501zM144.810 707.501L148.735 708.701L148.735 709.701L144.810 708.501zM147.735 708.701L150.490 708.701L150.490 709.701L147.735 709.701zM149.490 708.701L151.660 708.101L151.660 709.101L149.490 709.701zM152.246 707.500L151.661 709.100L150.661 709.100L151.246 707.500zM144.810 707.501L148.735 709.301L148.735 710.301L144.810 708.501zM147.735 709.301L151.075 709.301L151.075 710.301L147.735 710.301zM151.661 708.700L151.076 710.300L150.076 710.300L150.661 708.700zM152.246 707.500L151.661 709.700L150.661 709.700L151.246 707.500zM152.246 706.300L152.246 708.500L151.246 708.500L151.246 706.300zM156.510 697.301L159.265 696.701L159.265 697.701L156.510 698.301zM157.511 697.300L156.341 700.100L155.341 700.100L156.511 697.300zM156.341 699.100L155.756 703.100L154.756 703.100L155.341 699.100zM155.756 702.100L155.756 704.900L154.756 704.900L154.756 702.100zM155.756 703.900L156.341 707.900L155.341 707.900L154.756 703.900zM156.341 706.900L157.511 709.700L156.511 709.700L155.341 706.900zM156.510 708.701L159.265 709.301L159.265 710.301L156.510 709.701zM158.265 709.301L160.435 709.301L160.435 710.301L158.265 710.301zM159.435 709.301L162.190 708.701L162.190 709.701L159.435 710.301zM163.361 706.900L162.191 709.700L161.191 709.700L162.361 706.900zM163.946 703.900L163.361 707.900L162.361 707.900L162.946 703.900zM163.946 702.100L163.946 704.900L162.946 704.900L162.946 702.100zM163.361 699.100L163.946 703.100L162.946 703.100L162.361 699.100zM162.191 697.300L163.361 700.100L162.361 700.100L161.191 697.300zM159.435 696.701L162.190 697.301L162.190 698.301L159.435 697.701zM158.265 696.701L160.435 696.701L160.435 697.701L158.265 697.701zM157.095 697.301L159.265 696.701L159.265 697.701L157.095 698.301zM158.096 697.300L157.511 698.900L156.511 698.900L157.096 697.300zM157.511 697.900L156.926 700.100L155.926 700.100L156.511 697.900zM156.926 699.100L156.341 703.100L155.341 703.100L155.926 699.100zM156.341 702.100L156.341 704.900L155.341 704.900L155.341 702.100zM156.341 703.900L156.926 707.900L155.926 707.900L155.341 703.900zM156.926 706.900L157.511 709.100L156.511 709.100L155.926 706.900zM157.511 708.100L158.096 709.700L157.096 709.700L156.511 708.100zM157.095 708.701L159.265 709.301L159.265 710.301L157.095 709.701zM159.435 709.301L161.605 708.701L161.605 709.701L159.435 710.301zM162.191 708.100L161.606 709.700L160.606 709.700L161.191 708.100zM162.776 706.900L162.191 709.100L161.191 709.100L161.776 706.900zM163.361 703.900L162.776 707.900L161.776 707.900L162.361 703.900zM163.361 702.100L163.361 704.900L162.361 704.900L162.361 702.100zM162.776 699.100L163.361 703.100L162.361 703.100L161.776 699.100zM162.191 697.900L162.776 700.100L161.776 700.100L161.191 697.900zM161.606 697.300L162.191 698.900L161.191 698.900L160.606 697.300zM159.435 696.701L161.605 697.301L161.605 698.301L159.435 697.701zM168.210 699.101L170.380 698.501L170.380 699.501L168.210 700.101zM172.136 696.700L170.381 699.500L169.381 699.500L171.136 696.700zM172.136 696.700L172.136 710.300L171.136 710.300L171.136 696.700zM171.551 697.300L171.551 710.300L170.551 710.300L170.551 697.300zM168.210 709.301L174.475 709.301L174.475 710.301L168.210 710.301zM179.156 696.700L179.156 701.300L178.156 701.300L178.156 696.700zM179.741 697.900L179.156 700.100L178.156 700.100L178.741 697.900zM180.911 696.700L179.741 698.900L178.741 698.900L179.911 696.700zM179.910 696.701L182.080 696.701L182.080 697.701L179.910 697.701zM181.080 696.701L185.005 698.501L185.005 699.501L181.080 697.701zM184.005 698.501L186.175 698.501L186.175 699.501L184.005 699.501zM186.761 697.900L186.176 699.500L185.176 699.500L185.761 697.900zM187.346 696.700L186.761 698.900L185.761 698.900L186.346 696.700zM178.740 697.901L180.910 697.301L180.910 698.301L178.740 698.901zM179.910 697.301L182.080 697.301L182.080 698.301L179.910 698.301zM181.080 697.301L185.005 698.501L185.005 699.501L181.080 698.301zM187.346 696.700L187.346 699.500L186.346 699.500L186.346 696.700zM187.346 698.500L186.761 701.300L185.761 701.300L186.346 698.500zM186.761 700.300L184.421 704.300L183.421 704.300L185.761 700.300zM184.421 703.300L183.836 705.500L182.836 705.500L183.421 703.300zM183.836 704.500L183.251 707.300L182.251 707.300L182.836 704.500zM183.251 706.300L183.251 710.300L182.251 710.300L182.251 706.300zM186.761 700.300L183.836 704.300L182.836 704.300L185.761 700.300zM183.836 703.300L183.251 705.500L182.251 705.500L182.836 703.300zM183.251 704.500L182.666 707.300L181.666 707.300L182.251 704.500zM182.666 706.300L182.666 710.300L181.666 710.300L181.666 706.300zM201.555 697.301L204.310 696.701L204.310 697.701L201.555 698.301zM202.556 697.300L201.386 699.500L200.386 699.500L201.556 697.300zM201.386 698.500L200.801 700.700L199.801 700.700L200.386 698.500zM200.801 699.700L200.216 703.100L199.216 703.100L199.801 699.700zM200.216 702.100L200.216 704.900L199.216 704.900L199.216 702.100zM200.216 703.900L200.801 707.300L199.801 707.300L199.216 703.900zM200.801 706.300L201.386 708.500L200.386 708.500L199.801 706.300zM201.386 707.500L202.556 709.700L201.556 709.700L200.386 707.500zM201.555 708.701L204.310 709.301L204.310 710.301L201.555 709.701zM203.310 709.301L205.480 709.301L205.480 710.301L203.310 710.301zM204.480 709.301L207.235 708.701L207.235 709.701L204.480 710.301zM208.406 707.500L207.236 709.700L206.236 709.700L207.406 707.500zM208.991 706.300L208.406 708.500L207.406 708.500L207.991 706.300zM209.576 703.900L208.991 707.300L207.991 707.300L208.576 703.900zM209.576 702.100L209.576 704.900L208.576 704.900L208.576 702.100zM208.991 699.700L209.576 703.100L208.576 703.100L207.991 699.700zM208.406 698.500L208.991 700.700L207.991 700.700L207.406 698.500zM207.236 697.300L208.406 699.500L207.406 699.500L206.236 697.300zM204.480 696.701L207.235 697.301L207.235 698.301L204.480 697.701zM203.310 696.701L205.480 696.701L205.480 697.701L203.310 697.701zM202.140 697.301L204.310 696.701L204.310 697.701L202.140 698.301zM203.141 697.300L201.971 699.500L200.971 699.500L202.141 697.300zM201.971 698.500L201.386 700.700L200.386 700.700L200.971 698.500zM201.386 699.700L200.801 703.100L199.801 703.100L200.386 699.700zM200.801 702.100L200.801 704.900L199.801 704.900L199.801 702.100zM200.801 703.900L201.386 707.300L200.386 707.300L199.801 703.900zM201.386 706.300L201.971 708.500L200.971 708.500L200.386 706.300zM201.971 707.500L203.141 709.700L202.141 709.700L200.971 707.500zM202.140 708.701L204.310 709.301L204.310 710.301L202.140 709.701zM204.480 709.301L206.650 708.701L206.650 709.701L204.480 710.301zM207.821 707.500L206.651 709.700L205.651 709.700L206.821 707.500zM208.406 706.300L207.821 708.500L206.821 708.500L207.406 706.300zM208.991 703.900L208.406 707.300L207.406 707.300L207.991 703.900zM208.991 702.100L208.991 704.900L207.991 704.900L207.991 702.100zM208.406 699.700L208.991 703.100L207.991 703.100L207.406 699.700zM207.821 698.500L208.406 700.700L207.406 700.700L206.821 698.500zM206.651 697.300L207.821 699.500L206.821 699.500L205.651 697.300zM204.480 696.701L206.650 697.301L206.650 698.301L204.480 697.701zM220.106 702.700L219.521 704.300L218.521 704.300L219.106 702.700zM219.521 703.300L220.106 704.900L219.106 704.900L218.521 703.300zM220.691 703.300L220.106 704.900L219.106 704.900L219.691 703.300zM220.691 702.700L220.691 704.300L219.691 704.300L219.691 702.700zM219.521 701.500L220.691 703.700L219.691 703.700L218.521 701.500zM217.350 700.901L219.520 701.501L219.520 702.501L217.350 701.901zM215.595 700.901L218.350 700.901L218.350 701.901L215.595 701.901zM213.840 701.501L216.595 700.901L216.595 701.901L213.840 702.501zM214.841 701.500L213.671 703.700L212.671 703.700L213.841 701.500zM213.671 702.700L213.086 705.500L212.086 705.500L212.671 702.700zM213.086 704.500L213.086 706.700L212.086 706.700L212.086 704.500zM213.086 705.700L213.671 708.500L212.671 708.500L212.086 705.700zM213.671 707.500L214.841 709.700L213.841 709.700L212.671 707.500zM213.840 708.701L216.595 709.301L216.595 710.301L213.840 709.701zM215.595 709.301L217.765 709.301L217.765 710.301L215.595 710.301zM216.765 709.301L219.520 708.701L219.520 709.701L216.765 710.301zM220.691 707.500L219.521 709.700L218.521 709.700L219.691 707.500zM214.425 701.501L216.595 700.901L216.595 701.901L214.425 702.501zM215.426 701.500L214.256 703.700L213.256 703.700L214.426 701.500zM214.256 702.700L213.671 705.500L212.671 705.500L213.256 702.700zM213.671 704.500L213.671 706.700L212.671 706.700L212.671 704.500zM213.671 705.700L214.256 708.500L213.256 708.500L212.671 705.700zM214.256 707.500L215.426 709.700L214.426 709.700L213.256 707.500zM214.425 708.701L216.595 709.301L216.595 710.301L214.425 709.701zM225.371 696.700L225.371 707.900L224.371 707.900L224.371 696.700zM225.371 706.900L225.956 709.700L224.956 709.700L224.371 706.900zM224.955 708.701L227.125 709.301L227.125 710.301L224.955 709.701zM226.125 709.301L228.295 709.301L228.295 710.301L226.125 710.301zM227.295 709.301L229.465 708.701L229.465 709.701L227.295 710.301zM230.051 707.500L229.466 709.700L228.466 709.700L229.051 707.500zM225.956 696.700L225.956 707.900L224.956 707.900L224.956 696.700zM225.956 706.900L226.541 709.700L225.541 709.700L224.956 706.900zM226.541 708.700L227.126 710.300L226.126 710.300L225.541 708.700zM222.615 700.901L228.295 700.901L228.295 701.901L222.615 701.901zM242.921 699.100L243.506 700.700L242.506 700.700L241.921 699.100zM243.506 699.700L242.921 701.300L241.921 701.300L242.506 699.700zM242.336 699.700L242.921 701.300L241.921 701.300L241.336 699.700zM242.336 699.100L242.336 700.700L241.336 700.700L241.336 699.100zM242.921 697.900L242.336 700.100L241.336 700.100L241.921 697.900zM243.506 697.300L242.921 698.900L241.921 698.900L242.506 697.300zM242.505 697.301L245.260 696.701L245.260 697.701L242.505 698.301zM244.260 696.701L247.600 696.701L247.600 697.701L244.260 697.701zM246.600 696.701L249.355 697.301L249.355 698.301L246.600 697.701zM249.356 697.300L249.941 698.900L248.941 698.900L248.356 697.300zM249.941 697.900L250.526 700.100L249.526 700.100L248.941 697.900zM250.526 699.100L250.526 701.300L249.526 701.300L249.526 699.100zM250.526 700.300L249.941 702.500L248.941 702.500L249.526 700.300zM247.185 702.701L249.940 701.501L249.940 702.501L247.185 703.701zM244.260 703.901L248.185 702.701L248.185 703.701L244.260 704.901zM243.090 704.501L245.260 703.901L245.260 704.901L243.090 705.501zM244.091 704.500L242.921 706.700L241.921 706.700L243.091 704.500zM242.921 705.700L242.336 708.500L241.336 708.500L241.921 705.700zM242.336 707.500L242.336 710.300L241.336 710.300L241.336 707.500zM246.600 696.701L248.770 697.301L248.770 698.301L246.600 697.701zM248.771 697.300L249.356 698.900L248.356 698.900L247.771 697.300zM249.356 697.900L249.941 700.100L248.941 700.100L248.356 697.900zM249.941 699.100L249.941 701.300L248.941 701.300L248.941 699.100zM249.941 700.300L249.356 702.500L248.356 702.500L248.941 700.300zM246.600 702.701L249.355 701.501L249.355 702.501L246.600 703.701zM244.260 703.901L247.600 702.701L247.600 703.701L244.260 704.901zM242.921 707.500L242.336 709.100L241.336 709.100L241.921 707.500zM241.920 707.501L244.090 707.501L244.090 708.501L241.920 708.501zM243.090 707.501L247.015 708.701L247.015 709.701L243.090 708.501zM246.015 708.701L248.770 708.701L248.770 709.701L246.015 709.701zM247.770 708.701L249.940 708.101L249.940 709.101L247.770 709.701zM250.526 707.500L249.941 709.100L248.941 709.100L249.526 707.500zM243.090 707.501L247.015 709.301L247.015 710.301L243.090 708.501zM246.015 709.301L249.355 709.301L249.355 710.301L246.015 710.301zM249.941 708.700L249.356 710.300L248.356 710.300L248.941 708.700zM250.526 707.500L249.941 709.700L248.941 709.700L249.526 707.500zM250.526 706.300L250.526 708.500L249.526 708.500L249.526 706.300zM254.036 696.700L254.036 701.300L253.036 701.300L253.036 696.700zM254.621 697.900L254.036 700.100L253.036 700.100L253.621 697.900zM255.791 696.700L254.621 698.900L253.621 698.900L254.791 696.700zM254.790 696.701L256.960 696.701L256.960 697.701L254.790 697.701zM255.960 696.701L259.885 698.501L259.885 699.501L255.960 697.701zM258.885 698.501L261.055 698.501L261.055 699.501L258.885 699.501zM261.641 697.900L261.056 699.500L260.056 699.500L260.641 697.900zM262.226 696.700L261.641 698.900L260.641 698.900L261.226 696.700zM253.620 697.901L255.790 697.301L255.790 698.301L253.620 698.901zM254.790 697.301L256.960 697.301L256.960 698.301L254.790 698.301zM255.960 697.301L259.885 698.501L259.885 699.501L255.960 698.301zM262.226 696.700L262.226 699.500L261.226 699.500L261.226 696.700zM262.226 698.500L261.641 701.300L260.641 701.300L261.226 698.500zM261.641 700.300L259.301 704.300L258.301 704.300L260.641 700.300zM259.301 703.300L258.716 705.500L257.716 705.500L258.301 703.300zM258.716 704.500L258.131 707.300L257.131 707.300L257.716 704.500zM258.131 706.300L258.131 710.300L257.131 710.300L257.131 706.300zM261.641 700.300L258.716 704.300L257.716 704.300L260.641 700.300zM258.716 703.300L258.131 705.500L257.131 705.500L257.716 703.300zM258.131 704.500L257.546 707.300L256.546 707.300L257.131 704.500zM257.546 706.300L257.546 710.300L256.546 710.300L256.546 706.300zM276.629 696.700L276.629 710.300L275.629 710.300L275.629 696.700zM277.214 696.700L284.234 709.100L283.234 709.100L276.214 696.700zM277.214 697.900L284.234 710.300L283.234 710.300L276.214 697.900zM284.234 696.700L284.234 710.300L283.234 710.300L283.234 696.700zM273.873 696.701L277.213 696.701L277.213 697.701L273.873 697.701zM281.478 696.701L285.988 696.701L285.988 697.701L281.478 697.701zM273.873 709.301L278.383 709.301L278.383 710.301L273.873 710.301zM289.668 701.501L292.423 700.901L292.423 701.901L289.668 702.501zM290.669 701.500L289.499 703.700L288.499 703.700L289.669 701.500zM289.499 702.700L288.914 705.500L287.914 705.500L288.499 702.700zM288.914 704.500L288.914 706.700L287.914 706.700L287.914 704.500zM288.914 705.700L289.499 708.500L288.499 708.500L287.914 705.700zM289.499 707.500L290.669 709.700L289.669 709.700L288.499 707.500zM289.668 708.701L292.423 709.301L292.423 710.301L289.668 709.701zM291.423 709.301L293.593 709.301L293.593 710.301L291.423 710.301zM292.593 709.301L295.348 708.701L295.348 709.701L292.593 710.301zM296.519 707.500L295.349 709.700L294.349 709.700L295.519 707.500zM297.104 705.700L296.519 708.500L295.519 708.500L296.104 705.700zM297.104 704.500L297.104 706.700L296.104 706.700L296.104 704.500zM296.519 702.700L297.104 705.500L296.104 705.500L295.519 702.700zM295.349 701.500L296.519 703.700L295.519 703.700L294.349 701.500zM292.593 700.901L295.348 701.501L295.348 702.501L292.593 701.901zM291.423 700.901L293.593 700.901L293.593 701.901L291.423 701.901zM290.253 701.501L292.423 700.901L292.423 701.901L290.253 702.501zM291.254 701.500L290.084 703.700L289.084 703.700L290.254 701.500zM290.084 702.700L289.499 705.500L288.499 705.500L289.084 702.700zM289.499 704.500L289.499 706.700L288.499 706.700L288.499 704.500zM289.499 705.700L290.084 708.500L289.084 708.500L288.499 705.700zM290.084 707.500L291.254 709.700L290.254 709.700L289.084 707.500zM290.253 708.701L292.423 709.301L292.423 710.301L290.253 709.701zM292.593 709.301L294.763 708.701L294.763 709.701L292.593 710.301zM295.934 707.500L294.764 709.700L293.764 709.700L294.934 707.500zM296.519 705.700L295.934 708.500L294.934 708.500L295.519 705.700zM296.519 704.500L296.519 706.700L295.519 706.700L295.519 704.500zM295.934 702.700L296.519 705.500L295.519 705.500L294.934 702.700zM294.764 701.500L295.934 703.700L294.934 703.700L293.764 701.500zM292.593 700.901L294.763 701.501L294.763 702.501L292.593 701.901zM300.614 700.900L304.124 710.300L303.124 710.300L299.614 700.900zM301.199 700.900L304.124 709.100L303.124 709.100L300.199 700.900zM307.634 700.900L304.124 710.300L303.124 710.300L306.634 700.900zM298.443 700.901L302.953 700.901L302.953 701.901L298.443 701.901zM304.293 700.901L308.803 700.901L308.803 701.901L304.293 701.901zM336.884 698.500L336.299 700.100L335.299 700.100L335.884 698.500zM336.299 699.100L336.884 700.700L335.884 700.700L335.299 699.100zM337.469 699.100L336.884 700.700L335.884 700.700L336.469 699.100zM337.469 698.500L337.469 700.100L336.469 700.100L336.469 698.500zM336.884 697.300L337.469 699.500L336.469 699.500L335.884 697.300zM334.713 696.701L336.883 697.301L336.883 698.301L334.713 697.701zM332.958 696.701L335.713 696.701L335.713 697.701L332.958 697.701zM331.203 697.301L333.958 696.701L333.958 697.701L331.203 698.301zM332.204 697.300L331.034 699.500L330.034 699.500L331.204 697.300zM331.034 698.500L330.449 700.700L329.449 700.700L330.034 698.500zM330.449 699.700L329.864 703.100L328.864 703.100L329.449 699.700zM329.864 702.100L329.864 706.700L328.864 706.700L328.864 702.100zM329.864 705.700L330.449 708.500L329.449 708.500L328.864 705.700zM330.449 707.500L331.619 709.700L330.619 709.700L329.449 707.500zM330.618 708.701L333.373 709.301L333.373 710.301L330.618 709.701zM332.373 709.301L334.543 709.301L334.543 710.301L332.373 710.301zM333.543 709.301L336.298 708.701L336.298 709.701L333.543 710.301zM337.469 707.500L336.299 709.700L335.299 709.700L336.469 707.500zM338.054 705.700L337.469 708.500L336.469 708.500L337.054 705.700zM338.054 705.100L338.054 706.700L337.054 706.700L337.054 705.100zM337.469 703.300L338.054 706.100L337.054 706.100L336.469 703.300zM336.299 702.100L337.469 704.300L336.469 704.300L335.299 702.100zM333.543 701.501L336.298 702.101L336.298 703.101L333.543 702.501zM332.958 701.501L334.543 701.501L334.543 702.501L332.958 702.501zM331.203 702.101L333.958 701.501L333.958 702.501L331.203 703.101zM332.204 702.100L331.034 704.300L330.034 704.300L331.204 702.100zM331.034 703.300L330.449 706.100L329.449 706.100L330.034 703.300zM331.788 697.301L333.958 696.701L333.958 697.701L331.788 698.301zM332.789 697.300L331.619 699.500L330.619 699.500L331.789 697.300zM331.619 698.500L331.034 700.700L330.034 700.700L330.619 698.500zM331.034 699.700L330.449 703.100L329.449 703.100L330.034 699.700zM330.449 702.100L330.449 706.700L329.449 706.700L329.449 702.100zM330.449 705.700L331.034 708.500L330.034 708.500L329.449 705.700zM331.034 707.500L332.204 709.700L331.204 709.700L330.034 707.500zM331.203 708.701L333.373 709.301L333.373 710.301L331.203 709.701zM333.543 709.301L335.713 708.701L335.713 709.701L333.543 710.301zM336.884 707.500L335.714 709.700L334.714 709.700L335.884 707.500zM337.469 705.700L336.884 708.500L335.884 708.500L336.469 705.700zM337.469 705.100L337.469 706.700L336.469 706.700L336.469 705.100zM336.884 703.300L337.469 706.100L336.469 706.100L335.884 703.300zM335.714 702.100L336.884 704.300L335.884 704.300L334.714 702.100zM333.543 701.501L335.713 702.101L335.713 703.101L333.543 702.501zM379.075 696.700L379.075 710.300L378.075 710.300L378.075 696.700zM379.660 696.700L386.680 709.100L385.680 709.100L378.660 696.700zM379.660 697.900L386.680 710.300L385.680 710.300L378.660 697.900zM386.680 696.700L386.680 710.300L385.680 710.300L385.680 696.700zM376.320 696.701L379.659 696.701L379.659 697.701L376.320 697.701zM383.924 696.701L388.435 696.701L388.435 697.701L383.924 697.701zM376.320 709.301L380.829 709.301L380.829 710.301L376.320 710.301zM392.114 701.501L394.870 700.901L394.870 701.901L392.114 702.501zM393.115 701.500L391.945 703.700L390.945 703.700L392.115 701.500zM391.945 702.700L391.360 705.500L390.360 705.500L390.945 702.700zM391.360 704.500L391.360 706.700L390.360 706.700L390.360 704.500zM391.360 705.700L391.945 708.500L390.945 708.500L390.360 705.700zM391.945 707.500L393.115 709.700L392.115 709.700L390.945 707.500zM392.114 708.701L394.870 709.301L394.870 710.301L392.114 709.701zM393.870 709.301L396.039 709.301L396.039 710.301L393.870 710.301zM395.039 709.301L397.794 708.701L397.794 709.701L395.039 710.301zM398.965 707.500L397.795 709.700L396.795 709.700L397.965 707.500zM399.550 705.700L398.965 708.500L397.965 708.500L398.550 705.700zM399.550 704.500L399.550 706.700L398.550 706.700L398.550 704.500zM398.965 702.700L399.550 705.500L398.550 705.500L397.965 702.700zM397.795 701.500L398.965 703.700L397.965 703.700L396.795 701.500zM395.039 700.901L397.794 701.501L397.794 702.501L395.039 701.901zM393.870 700.901L396.039 700.901L396.039 701.901L393.870 701.901zM392.700 701.501L394.870 700.901L394.870 701.901L392.700 702.501zM393.700 701.500L392.530 703.700L391.530 703.700L392.700 701.500zM392.530 702.700L391.945 705.500L390.945 705.500L391.530 702.700zM391.945 704.500L391.945 706.700L390.945 706.700L390.945 704.500zM391.945 705.700L392.530 708.500L391.530 708.500L390.945 705.700zM392.530 707.500L393.700 709.700L392.700 709.700L391.530 707.500zM392.700 708.701L394.870 709.301L394.870 710.301L392.700 709.701zM395.039 709.301L397.209 708.701L397.209 709.701L395.039 710.301zM398.380 707.500L397.210 709.700L396.210 709.700L397.380 707.500zM398.965 705.700L398.380 708.500L397.380 708.500L397.965 705.700zM398.965 704.500L398.965 706.700L397.965 706.700L397.965 704.500zM398.380 702.700L398.965 705.500L397.965 705.500L397.380 702.700zM397.210 701.500L398.380 703.700L397.380 703.700L396.210 701.500zM395.039 700.901L397.209 701.501L397.209 702.501L395.039 701.901zM403.060 700.900L406.570 710.300L405.570 710.300L402.060 700.900zM403.645 700.900L406.570 709.100L405.570 709.100L402.645 700.900zM410.080 700.900L406.570 710.300L405.570 710.300L409.080 700.900zM400.889 700.901L405.399 700.901L405.399 701.901L400.889 701.901zM406.739 700.901L411.250 700.901L411.250 701.901L406.739 701.901zM423.704 699.101L425.875 698.501L425.875 699.501L423.704 700.101zM427.630 696.700L425.875 699.500L424.875 699.500L426.630 696.700zM427.630 696.700L427.630 710.300L426.630 710.300L426.630 696.700zM427.045 697.300L427.045 710.300L426.045 710.300L426.045 697.300zM423.704 709.301L429.969 709.301L429.969 710.301L423.704 710.301zM441.670 698.500L441.085 700.100L440.085 700.100L440.670 698.500zM441.085 699.100L441.670 700.700L440.670 700.700L440.085 699.100zM442.255 699.100L441.670 700.700L440.670 700.700L441.255 699.100zM442.255 698.500L442.255 700.100L441.255 700.100L441.255 698.500zM441.670 697.300L442.255 699.500L441.255 699.500L440.670 697.300zM439.500 696.701L441.669 697.301L441.669 698.301L439.500 697.701zM437.745 696.701L440.500 696.701L440.500 697.701L437.745 697.701zM435.989 697.301L438.745 696.701L438.745 697.701L435.989 698.301zM436.990 697.300L435.820 699.500L434.820 699.500L435.990 697.300zM435.820 698.500L435.235 700.700L434.235 700.700L434.820 698.500zM435.235 699.700L434.650 703.100L433.650 703.100L434.235 699.700zM434.650 702.100L434.650 706.700L433.650 706.700L433.650 702.100zM434.650 705.700L435.235 708.500L434.235 708.500L433.650 705.700zM435.235 707.500L436.405 709.700L435.405 709.700L434.235 707.500zM435.404 708.701L438.159 709.301L438.159 710.301L435.404 709.701zM437.159 709.301L439.329 709.301L439.329 710.301L437.159 710.301zM438.329 709.301L441.084 708.701L441.084 709.701L438.329 710.301zM442.255 707.500L441.085 709.700L440.085 709.700L441.255 707.500zM442.840 705.700L442.255 708.500L441.255 708.500L441.840 705.700zM442.840 705.100L442.840 706.700L441.840 706.700L441.840 705.100zM442.255 703.300L442.840 706.100L441.840 706.100L441.255 703.300zM441.085 702.100L442.255 704.300L441.255 704.300L440.085 702.100zM438.329 701.501L441.084 702.101L441.084 703.101L438.329 702.501zM437.745 701.501L439.329 701.501L439.329 702.501L437.745 702.501zM435.989 702.101L438.745 701.501L438.745 702.501L435.989 703.101zM436.990 702.100L435.820 704.300L434.820 704.300L435.990 702.100zM435.820 703.300L435.235 706.100L434.235 706.100L434.820 703.300zM436.575 697.301L438.745 696.701L438.745 697.701L436.575 698.301zM437.575 697.300L436.405 699.500L435.405 699.500L436.575 697.300zM436.405 698.500L435.820 700.700L434.820 700.700L435.405 698.500zM435.820 699.700L435.235 703.100L434.235 703.100L434.820 699.700zM435.235 702.100L435.235 706.700L434.235 706.700L434.235 702.100zM435.235 705.700L435.820 708.500L434.820 708.500L434.235 705.700zM435.820 707.500L436.990 709.700L435.990 709.700L434.820 707.500zM435.989 708.701L438.159 709.301L438.159 710.301L435.989 709.701zM438.329 709.301L440.500 708.701L440.500 709.701L438.329 710.301zM441.670 707.500L440.500 709.700L439.500 709.700L440.670 707.500zM442.255 705.700L441.670 708.500L440.670 708.500L441.255 705.700zM442.255 705.100L442.255 706.700L441.255 706.700L441.255 705.100zM441.670 703.300L442.255 706.100L441.255 706.100L440.670 703.300zM440.500 702.100L441.670 704.300L440.670 704.300L439.500 702.100zM438.329 701.501L440.500 702.101L440.500 703.101L438.329 702.501zM482.692 696.700L482.692 710.300L481.692 710.300L481.692 696.700zM483.277 696.700L490.297 709.100L489.297 709.100L482.277 696.700zM483.277 697.900L490.297 710.300L489.297 710.300L482.277 697.900zM490.297 696.700L490.297 710.300L489.297 710.300L489.297 696.700zM479.936 696.701L483.276 696.701L483.276 697.701L479.936 697.701zM487.541 696.701L492.051 696.701L492.051 697.701L487.541 697.701zM479.936 709.301L484.446 709.301L484.446 710.301L479.936 710.301zM495.731 701.501L498.486 700.901L498.486 701.901L495.731 702.501zM496.732 701.500L495.562 703.700L494.562 703.700L495.732 701.500zM495.562 702.700L494.977 705.500L493.977 705.500L494.562 702.700zM494.977 704.500L494.977 706.700L493.977 706.700L493.977 704.500zM494.977 705.700L495.562 708.500L494.562 708.500L493.977 705.700zM495.562 707.500L496.732 709.700L495.732 709.700L494.562 707.500zM495.731 708.701L498.486 709.301L498.486 710.301L495.731 709.701zM497.486 709.301L499.656 709.301L499.656 710.301L497.486 710.301zM498.656 709.301L501.411 708.701L501.411 709.701L498.656 710.301zM502.582 707.500L501.412 709.700L500.412 709.700L501.582 707.500zM503.167 705.700L502.582 708.500L501.582 708.500L502.167 705.700zM503.167 704.500L503.167 706.700L502.167 706.700L502.167 704.500zM502.582 702.700L503.167 705.500L502.167 705.500L501.582 702.700zM501.412 701.500L502.582 703.700L501.582 703.700L500.412 701.500zM498.656 700.901L501.411 701.501L501.411 702.501L498.656 701.901zM497.486 700.901L499.656 700.901L499.656 701.901L497.486 701.901zM496.316 701.501L498.486 700.901L498.486 701.901L496.316 702.501zM497.317 701.500L496.147 703.700L495.147 703.700L496.317 701.500zM496.147 702.700L495.562 705.500L494.562 705.500L495.147 702.700zM495.562 704.500L495.562 706.700L494.562 706.700L494.562 704.500zM495.562 705.700L496.147 708.500L495.147 708.500L494.562 705.700zM496.147 707.500L497.317 709.700L496.317 709.700L495.147 707.500zM496.316 708.701L498.486 709.301L498.486 710.301L496.316 709.701zM498.656 709.301L500.826 708.701L500.826 709.701L498.656 710.301zM501.997 707.500L500.827 709.700L499.827 709.700L500.997 707.500zM502.582 705.700L501.997 708.500L500.997 708.500L501.582 705.700zM502.582 704.500L502.582 706.700L501.582 706.700L501.582 704.500zM501.997 702.700L502.582 705.500L501.582 705.500L500.997 702.700zM500.827 701.500L501.997 703.700L500.997 703.700L499.827 701.500zM498.656 700.901L500.826 701.501L500.826 702.501L498.656 701.901zM506.677 700.900L510.187 710.300L509.187 710.300L505.677 700.900zM507.262 700.900L510.187 709.100L509.187 709.100L506.262 700.900zM513.697 700.900L510.187 710.300L509.187 710.300L512.697 700.900zM504.506 700.901L509.016 700.901L509.016 701.901L504.506 701.901zM510.356 700.901L514.866 700.901L514.866 701.901L510.356 701.901zM527.152 699.100L527.737 700.700L526.737 700.700L526.152 699.100zM527.737 699.700L527.152 701.300L526.152 701.300L526.737 699.700zM526.567 699.700L527.152 701.300L526.152 701.300L525.567 699.700zM526.567 699.100L526.567 700.700L525.567 700.700L525.567 699.100zM527.152 697.900L526.567 700.100L525.567 700.100L526.152 697.900zM527.737 697.300L527.152 698.900L526.152 698.900L526.737 697.300zM526.736 697.301L529.491 696.701L529.491 697.701L526.736 698.301zM528.491 696.701L531.831 696.701L531.831 697.701L528.491 697.701zM530.831 696.701L533.586 697.301L533.586 698.301L530.831 697.701zM533.587 697.300L534.172 698.900L533.172 698.900L532.587 697.300zM534.172 697.900L534.757 700.100L533.757 700.100L533.172 697.900zM534.757 699.100L534.757 701.300L533.757 701.300L533.757 699.100zM534.757 700.300L534.172 702.500L533.172 702.500L533.757 700.300zM531.416 702.701L534.171 701.501L534.171 702.501L531.416 703.701zM528.491 703.901L532.416 702.701L532.416 703.701L528.491 704.901zM527.321 704.501L529.491 703.901L529.491 704.901L527.321 705.501zM528.322 704.500L527.152 706.700L526.152 706.700L527.322 704.500zM527.152 705.700L526.567 708.500L525.567 708.500L526.152 705.700zM526.567 707.500L526.567 710.300L525.567 710.300L525.567 707.500zM530.831 696.701L533.001 697.301L533.001 698.301L530.831 697.701zM533.002 697.300L533.587 698.900L532.587 698.900L532.002 697.300zM533.587 697.900L534.172 700.100L533.172 700.100L532.587 697.900zM534.172 699.100L534.172 701.300L533.172 701.300L533.172 699.100zM534.172 700.300L533.587 702.500L532.587 702.500L533.172 700.300zM530.831 702.701L533.586 701.501L533.586 702.501L530.831 703.701zM528.491 703.901L531.831 702.701L531.831 703.701L528.491 704.901zM527.152 707.500L526.567 709.100L525.567 709.100L526.152 707.500zM526.151 707.501L528.321 707.501L528.321 708.501L526.151 708.501zM527.321 707.501L531.246 708.701L531.246 709.701L527.321 708.501zM530.246 708.701L533.001 708.701L533.001 709.701L530.246 709.701zM532.001 708.701L534.171 708.101L534.171 709.101L532.001 709.701zM534.757 707.500L534.172 709.100L533.172 709.100L533.757 707.500zM527.321 707.501L531.246 709.301L531.246 710.301L527.321 708.501zM530.246 709.301L533.586 709.301L533.586 710.301L530.246 710.301zM534.172 708.700L533.587 710.300L532.587 710.300L533.172 708.700zM534.757 707.500L534.172 709.700L533.172 709.700L533.757 707.500zM534.757 706.300L534.757 708.500L533.757 708.500L533.757 706.300zM545.287 698.500L544.702 700.100L543.702 700.100L544.287 698.500zM544.702 699.100L545.287 700.700L544.287 700.700L543.702 699.100zM545.872 699.100L545.287 700.700L544.287 700.700L544.872 699.100zM545.872 698.500L545.872 700.100L544.872 700.100L544.872 698.500zM545.287 697.300L545.872 699.500L544.872 699.500L544.287 697.300zM543.116 696.701L545.286 697.301L545.286 698.301L543.116 697.701zM541.361 696.701L544.116 696.701L544.116 697.701L541.361 697.701zM539.606 697.301L542.361 696.701L542.361 697.701L539.606 698.301zM540.607 697.300L539.437 699.500L538.437 699.500L539.607 697.300zM539.437 698.500L538.852 700.700L537.852 700.700L538.437 698.500zM538.852 699.700L538.267 703.100L537.267 703.100L537.852 699.700zM538.267 702.100L538.267 706.700L537.267 706.700L537.267 702.100zM538.267 705.700L538.852 708.500L537.852 708.500L537.267 705.700zM538.852 707.500L540.022 709.700L539.022 709.700L537.852 707.500zM539.021 708.701L541.776 709.301L541.776 710.301L539.021 709.701zM540.776 709.301L542.946 709.301L542.946 710.301L540.776 710.301zM541.946 709.301L544.701 708.701L544.701 709.701L541.946 710.301zM545.872 707.500L544.702 709.700L543.702 709.700L544.872 707.500zM546.457 705.700L545.872 708.500L544.872 708.500L545.457 705.700zM546.457 705.100L546.457 706.700L545.457 706.700L545.457 705.100zM545.872 703.300L546.457 706.100L545.457 706.100L544.872 703.300zM544.702 702.100L545.872 704.300L544.872 704.300L543.702 702.100zM541.946 701.501L544.701 702.101L544.701 703.101L541.946 702.501zM541.361 701.501L542.946 701.501L542.946 702.501L541.361 702.501zM539.606 702.101L542.361 701.501L542.361 702.501L539.606 703.101zM540.607 702.100L539.437 704.300L538.437 704.300L539.607 702.100zM539.437 703.300L538.852 706.100L537.852 706.100L538.437 703.300zM540.191 697.301L542.361 696.701L542.361 697.701L540.191 698.301zM541.192 697.300L540.022 699.500L539.022 699.500L540.192 697.300zM540.022 698.500L539.437 700.700L538.437 700.700L539.022 698.500zM539.437 699.700L538.852 703.100L537.852 703.100L538.437 699.700zM538.852 702.100L538.852 706.700L537.852 706.700L537.852 702.100zM538.852 705.700L539.437 708.500L538.437 708.500L537.852 705.700zM539.437 707.500L540.607 709.700L539.607 709.700L538.437 707.500zM539.606 708.701L541.776 709.301L541.776 710.301L539.606 709.701zM541.946 709.301L544.116 708.701L544.116 709.701L541.946 710.301zM545.287 707.500L544.117 709.700L543.117 709.700L544.287 707.500zM545.872 705.700L545.287 708.500L544.287 708.500L544.872 705.700zM545.872 705.100L545.872 706.700L544.872 706.700L544.872 705.100zM545.287 703.300L545.872 706.100L544.872 706.100L544.287 703.300zM544.117 702.100L545.287 704.300L544.287 704.300L543.117 702.100zM541.946 701.501L544.116 702.101L544.116 703.101L541.946 702.501zM587.770 696.700L587.770 710.300L586.770 710.300L586.770 696.700zM588.355 696.700L588.355 710.300L587.355 710.300L587.355 696.700zM585.014 696.701L591.864 696.701L591.864 697.701L585.014 697.701zM590.864 696.701L593.619 697.301L593.619 698.301L590.864 697.701zM593.620 697.300L594.790 699.500L593.790 699.500L592.620 697.300zM594.790 698.500L595.375 700.700L594.375 700.700L593.790 698.500zM595.375 699.700L595.960 702.500L594.960 702.500L594.375 699.700zM595.960 701.500L595.960 705.500L594.960 705.500L594.960 701.500zM595.960 704.500L595.375 707.300L594.375 707.300L594.960 704.500zM595.375 706.300L594.790 708.500L593.790 708.500L594.375 706.300zM594.790 707.500L593.620 709.700L592.620 709.700L593.790 707.500zM590.864 709.301L593.619 708.701L593.619 709.701L590.864 710.301zM585.014 709.301L591.864 709.301L591.864 710.301L585.014 710.301zM590.864 696.701L593.034 697.301L593.034 698.301L590.864 697.701zM593.035 697.300L594.205 699.500L593.205 699.500L592.035 697.300zM594.205 698.500L594.790 700.700L593.790 700.700L593.205 698.500zM594.790 699.700L595.375 702.500L594.375 702.500L593.790 699.700zM595.375 701.500L595.375 705.500L594.375 705.500L594.375 701.500zM595.375 704.500L594.790 707.300L593.790 707.300L594.375 704.500zM594.790 706.300L594.205 708.500L593.205 708.500L593.790 706.300zM594.205 707.500L593.035 709.700L592.035 709.700L593.205 707.500zM590.864 709.301L593.034 708.701L593.034 709.701L590.864 710.301zM599.054 704.501L607.074 704.501L607.074 705.501L599.054 705.501zM607.075 703.300L607.075 705.500L606.075 705.500L606.075 703.300zM606.490 702.100L607.075 704.300L606.075 704.300L605.490 702.100zM605.905 701.500L606.490 703.100L605.490 703.100L604.905 701.500zM603.734 700.901L605.904 701.501L605.904 702.501L603.734 701.901zM601.979 700.901L604.734 700.901L604.734 701.901L601.979 701.901zM600.224 701.501L602.979 700.901L602.979 701.901L600.224 702.501zM601.225 701.500L600.055 703.700L599.055 703.700L600.225 701.500zM600.055 702.700L599.470 705.500L598.470 705.500L599.055 702.700zM599.470 704.500L599.470 706.700L598.470 706.700L598.470 704.500zM599.470 705.700L600.055 708.500L599.055 708.500L598.470 705.700zM600.055 707.500L601.225 709.700L600.225 709.700L599.055 707.500zM600.224 708.701L602.979 709.301L602.979 710.301L600.224 709.701zM601.979 709.301L604.149 709.301L604.149 710.301L601.979 710.301zM603.149 709.301L605.904 708.701L605.904 709.701L603.149 710.301zM607.075 707.500L605.905 709.700L604.905 709.700L606.075 707.500zM606.490 702.700L606.490 705.500L605.490 705.500L605.490 702.700zM605.905 701.500L606.490 703.700L605.490 703.700L604.905 701.500zM600.809 701.501L602.979 700.901L602.979 701.901L600.809 702.501zM601.810 701.500L600.640 703.700L599.640 703.700L600.810 701.500zM600.640 702.700L600.055 705.500L599.055 705.500L599.640 702.700zM600.055 704.500L600.055 706.700L599.055 706.700L599.055 704.500zM600.055 705.700L600.640 708.500L599.640 708.500L599.055 705.700zM600.640 707.500L601.810 709.700L600.810 709.700L599.640 707.500zM600.809 708.701L602.979 709.301L602.979 710.301L600.809 709.701zM617.605 702.700L617.020 704.300L616.020 704.300L616.605 702.700zM617.020 703.300L617.605 704.900L616.605 704.900L616.020 703.300zM618.190 703.300L617.605 704.900L616.605 704.900L617.190 703.300zM618.190 702.700L618.190 704.300L617.190 704.300L617.190 702.700zM617.020 701.500L618.190 703.700L617.190 703.700L616.020 701.500zM614.849 700.901L617.019 701.501L617.019 702.501L614.849 701.901zM613.094 700.901L615.849 700.901L615.849 701.901L613.094 701.901zM611.339 701.501L614.094 700.901L614.094 701.901L611.339 702.501zM612.340 701.500L611.170 703.700L610.170 703.700L611.340 701.500zM611.170 702.700L610.585 705.500L609.585 705.500L610.170 702.700zM610.585 704.500L610.585 706.700L609.585 706.700L609.585 704.500zM610.585 705.700L611.170 708.500L610.170 708.500L609.585 705.700zM611.170 707.500L612.340 709.700L611.340 709.700L610.170 707.500zM611.339 708.701L614.094 709.301L614.094 710.301L611.339 709.701zM613.094 709.301L615.264 709.301L615.264 710.301L613.094 710.301zM614.264 709.301L617.019 708.701L617.019 709.701L614.264 710.301zM618.190 707.500L617.020 709.700L616.020 709.700L617.190 707.500zM611.924 701.501L614.094 700.901L614.094 701.901L611.924 702.501zM612.925 701.500L611.755 703.700L610.755 703.700L611.925 701.500zM611.755 702.700L611.170 705.500L610.170 705.500L610.755 702.700zM611.170 704.500L611.170 706.700L610.170 706.700L610.170 704.500zM611.170 705.700L611.755 708.500L610.755 708.500L610.170 705.700zM611.755 707.500L612.925 709.700L611.925 709.700L610.755 707.500zM611.924 708.701L614.094 709.301L614.094 710.301L611.924 709.701zM647.440 698.500L646.855 700.100L645.855 700.100L646.440 698.500zM646.855 699.100L647.440 700.700L646.440 700.700L645.855 699.100zM648.025 699.100L647.440 700.700L646.440 700.700L647.025 699.100zM648.025 698.500L648.025 700.100L647.025 700.100L647.025 698.500zM647.440 697.300L648.025 699.500L647.025 699.500L646.440 697.300zM645.269 696.701L647.439 697.301L647.439 698.301L645.269 697.701zM643.514 696.701L646.269 696.701L646.269 697.701L643.514 697.701zM641.759 697.301L644.514 696.701L644.514 697.701L641.759 698.301zM642.760 697.300L641.590 699.500L640.590 699.500L641.760 697.300zM641.590 698.500L641.005 700.700L640.005 700.700L640.590 698.500zM641.005 699.700L640.420 703.100L639.420 703.100L640.005 699.700zM640.420 702.100L640.420 706.700L639.420 706.700L639.420 702.100zM640.420 705.700L641.005 708.500L640.005 708.500L639.420 705.700zM641.005 707.500L642.175 709.700L641.175 709.700L640.005 707.500zM641.174 708.701L643.929 709.301L643.929 710.301L641.174 709.701zM642.929 709.301L645.099 709.301L645.099 710.301L642.929 710.301zM644.099 709.301L646.854 708.701L646.854 709.701L644.099 710.301zM648.025 707.500L646.855 709.700L645.855 709.700L647.025 707.500zM648.610 705.700L648.025 708.500L647.025 708.500L647.610 705.700zM648.610 705.100L648.610 706.700L647.610 706.700L647.610 705.100zM648.025 703.300L648.610 706.100L647.610 706.100L647.025 703.300zM646.855 702.100L648.025 704.300L647.025 704.300L645.855 702.100zM644.099 701.501L646.854 702.101L646.854 703.101L644.099 702.501zM643.514 701.501L645.099 701.501L645.099 702.501L643.514 702.501zM641.759 702.101L644.514 701.501L644.514 702.501L641.759 703.101zM642.760 702.100L641.590 704.300L640.590 704.300L641.760 702.100zM641.590 703.300L641.005 706.100L640.005 706.100L640.590 703.300zM642.344 697.301L644.514 696.701L644.514 697.701L642.344 698.301zM643.345 697.300L642.175 699.500L641.175 699.500L642.345 697.300zM642.175 698.500L641.590 700.700L640.590 700.700L641.175 698.500zM641.590 699.700L641.005 703.100L640.005 703.100L640.590 699.700zM641.005 702.100L641.005 706.700L640.005 706.700L640.005 702.100zM641.005 705.700L641.590 708.500L640.590 708.500L640.005 705.700zM641.590 707.500L642.760 709.700L641.760 709.700L640.590 707.500zM641.759 708.701L643.929 709.301L643.929 710.301L641.759 709.701zM644.099 709.301L646.269 708.701L646.269 709.701L644.099 710.301zM647.440 707.500L646.270 709.700L645.270 709.700L646.440 707.500zM648.025 705.700L647.440 708.500L646.440 708.500L647.025 705.700zM648.025 705.100L648.025 706.700L647.025 706.700L647.025 705.100zM647.440 703.300L648.025 706.100L647.025 706.100L646.440 703.300zM646.270 702.100L647.440 704.300L646.440 704.300L645.270 702.100zM644.099 701.501L646.269 702.101L646.269 703.101L644.099 702.501zM690.216 696.700L690.216 710.300L689.216 710.300L689.216 696.700zM690.801 696.700L690.801 710.300L689.801 710.300L689.801 696.700zM687.460 696.701L694.310 696.701L694.310 697.701L687.460 697.701zM693.310 696.701L696.065 697.301L696.065 698.301L693.310 697.701zM696.066 697.300L697.236 699.500L696.236 699.500L695.066 697.300zM697.236 698.500L697.821 700.700L696.821 700.700L696.236 698.500zM697.821 699.700L698.406 702.500L697.406 702.500L696.821 699.700zM698.406 701.500L698.406 705.500L697.406 705.500L697.406 701.500zM698.406 704.500L697.821 707.300L696.821 707.300L697.406 704.500zM697.821 706.300L697.236 708.500L696.236 708.500L696.821 706.300zM697.236 707.500L696.066 709.700L695.066 709.700L696.236 707.500zM693.310 709.301L696.065 708.701L696.065 709.701L693.310 710.301zM687.460 709.301L694.310 709.301L694.310 710.301L687.460 710.301zM693.310 696.701L695.480 697.301L695.480 698.301L693.310 697.701zM695.481 697.300L696.651 699.500L695.651 699.500L694.481 697.300zM696.651 698.500L697.236 700.700L696.236 700.700L695.651 698.500zM697.236 699.700L697.821 702.500L696.821 702.500L696.236 699.700zM697.821 701.500L697.821 705.500L696.821 705.500L696.821 701.500zM697.821 704.500L697.236 707.300L696.236 707.300L696.821 704.500zM697.236 706.300L696.651 708.500L695.651 708.500L696.236 706.300zM696.651 707.500L695.481 709.700L694.481 709.700L695.651 707.500zM693.310 709.301L695.480 708.701L695.480 709.701L693.310 710.301zM701.500 704.501L709.520 704.501L709.520 705.501L701.500 705.501zM709.521 703.300L709.521 705.500L708.521 705.500L708.521 703.300zM708.936 702.100L709.521 704.300L708.521 704.300L707.936 702.100zM708.351 701.500L708.936 703.100L707.936 703.100L707.351 701.500zM706.180 700.901L708.350 701.501L708.350 702.501L706.180 701.901zM704.425 700.901L707.180 700.901L707.180 701.901L704.425 701.901zM702.670 701.501L705.425 700.901L705.425 701.901L702.670 702.501zM703.671 701.500L702.501 703.700L701.501 703.700L702.671 701.500zM702.501 702.700L701.916 705.500L700.916 705.500L701.501 702.700zM701.916 704.500L701.916 706.700L700.916 706.700L700.916 704.500zM701.916 705.700L702.501 708.500L701.501 708.500L700.916 705.700zM702.501 707.500L703.671 709.700L702.671 709.700L701.501 707.500zM702.670 708.701L705.425 709.301L705.425 710.301L702.670 709.701zM704.425 709.301L706.595 709.301L706.595 710.301L704.425 710.301zM705.595 709.301L708.350 708.701L708.350 709.701L705.595 710.301zM709.521 707.500L708.351 709.700L707.351 709.700L708.521 707.500zM708.936 702.700L708.936 705.500L707.936 705.500L707.936 702.700zM708.351 701.500L708.936 703.700L707.936 703.700L707.351 701.500zM703.255 701.501L705.425 700.901L705.425 701.901L703.255 702.501zM704.256 701.500L703.086 703.700L702.086 703.700L703.256 701.500zM703.086 702.700L702.501 705.500L701.501 705.500L702.086 702.700zM702.501 704.500L702.501 706.700L701.501 706.700L701.501 704.500zM702.501 705.700L703.086 708.500L702.086 708.500L701.501 705.700zM703.086 707.500L704.256 709.700L703.256 709.700L702.086 707.500zM703.255 708.701L705.425 709.301L705.425 710.301L703.255 709.701zM720.051 702.700L719.466 704.300L718.466 704.300L719.051 702.700zM719.466 703.300L720.051 704.900L719.051 704.900L718.466 703.300zM720.636 703.300L720.051 704.900L719.051 704.900L719.636 703.300zM720.636 702.700L720.636 704.300L719.636 704.300L719.636 702.700zM719.466 701.500L720.636 703.700L719.636 703.700L718.466 701.500zM717.295 700.901L719.465 701.501L719.465 702.501L717.295 701.901zM715.540 700.901L718.295 700.901L718.295 701.901L715.540 701.901zM713.785 701.501L716.540 700.901L716.540 701.901L713.785 702.501zM714.786 701.500L713.616 703.700L712.616 703.700L713.786 701.500zM713.616 702.700L713.031 705.500L712.031 705.500L712.616 702.700zM713.031 704.500L713.031 706.700L712.031 706.700L712.031 704.500zM713.031 705.700L713.616 708.500L712.616 708.500L712.031 705.700zM713.616 707.500L714.786 709.700L713.786 709.700L712.616 707.500zM713.785 708.701L716.540 709.301L716.540 710.301L713.785 709.701zM715.540 709.301L717.710 709.301L717.710 710.301L715.540 710.301zM716.710 709.301L719.465 708.701L719.465 709.701L716.710 710.301zM720.636 707.500L719.466 709.700L718.466 709.700L719.636 707.500zM714.370 701.501L716.540 700.901L716.540 701.901L714.370 702.501zM715.371 701.500L714.201 703.700L713.201 703.700L714.371 701.500zM714.201 702.700L713.616 705.500L712.616 705.500L713.201 702.700zM713.616 704.500L713.616 706.700L712.616 706.700L712.616 704.500zM713.616 705.700L714.201 708.500L713.201 708.500L712.616 705.700zM714.201 707.500L715.371 709.700L714.371 709.700L713.201 707.500zM714.370 708.701L716.540 709.301L716.540 710.301L714.370 709.701zM734.260 699.101L736.430 698.501L736.430 699.501L734.260 700.101zM738.186 696.700L736.431 699.500L735.431 699.500L737.186 696.700zM738.186 696.700L738.186 710.300L737.186 710.300L737.186 696.700zM737.601 697.300L737.601 710.300L736.601 710.300L736.601 697.300zM734.260 709.301L740.525 709.301L740.525 710.301L734.260 710.301zM752.226 698.500L751.641 700.100L750.641 700.100L751.226 698.500zM751.641 699.100L752.226 700.700L751.226 700.700L750.641 699.100zM752.811 699.100L752.226 700.700L751.226 700.700L751.811 699.100zM752.811 698.500L752.811 700.100L751.811 700.100L751.811 698.500zM752.226 697.300L752.811 699.500L751.811 699.500L751.226 697.300zM750.055 696.701L752.225 697.301L752.225 698.301L750.055 697.701zM748.300 696.701L751.055 696.701L751.055 697.701L748.300 697.701zM746.545 697.301L749.300 696.701L749.300 697.701L746.545 698.301zM747.546 697.300L746.376 699.500L745.376 699.500L746.546 697.300zM746.376 698.500L745.791 700.700L744.791 700.700L745.376 698.500zM745.791 699.700L745.206 703.100L744.206 703.100L744.791 699.700zM745.206 702.100L745.206 706.700L744.206 706.700L744.206 702.100zM745.206 705.700L745.791 708.500L744.791 708.500L744.206 705.700zM745.791 707.500L746.961 709.700L745.961 709.700L744.791 707.500zM745.960 708.701L748.715 709.301L748.715 710.301L745.960 709.701zM747.715 709.301L749.885 709.301L749.885 710.301L747.715 710.301zM748.885 709.301L751.640 708.701L751.640 709.701L748.885 710.301zM752.811 707.500L751.641 709.700L750.641 709.700L751.811 707.500zM753.396 705.700L752.811 708.500L751.811 708.500L752.396 705.700zM753.396 705.100L753.396 706.700L752.396 706.700L752.396 705.100zM752.811 703.300L753.396 706.100L752.396 706.100L751.811 703.300zM751.641 702.100L752.811 704.300L751.811 704.300L750.641 702.100zM748.885 701.501L751.640 702.101L751.640 703.101L748.885 702.501zM748.300 701.501L749.885 701.501L749.885 702.501L748.300 702.501zM746.545 702.101L749.300 701.501L749.300 702.501L746.545 703.101zM747.546 702.100L746.376 704.300L745.376 704.300L746.546 702.100zM746.376 703.300L745.791 706.100L744.791 706.100L745.376 703.300zM747.130 697.301L749.300 696.701L749.300 697.701L747.130 698.301zM748.131 697.300L746.961 699.500L745.961 699.500L747.131 697.300zM746.961 698.500L746.376 700.700L745.376 700.700L745.961 698.500zM746.376 699.700L745.791 703.100L744.791 703.100L745.376 699.700zM745.791 702.100L745.791 706.700L744.791 706.700L744.791 702.100zM745.791 705.700L746.376 708.500L745.376 708.500L744.791 705.700zM746.376 707.500L747.546 709.700L746.546 709.700L745.376 707.500zM746.545 708.701L748.715 709.301L748.715 710.301L746.545 709.701zM748.885 709.301L751.055 708.701L751.055 709.701L748.885 710.301zM752.226 707.500L751.056 709.700L750.056 709.700L751.226 707.500zM752.811 705.700L752.226 708.500L751.226 708.500L751.811 705.700zM752.811 705.100L752.811 706.700L751.811 706.700L751.811 705.100zM752.226 703.300L752.811 706.100L751.811 706.100L751.226 703.300zM751.056 702.100L752.226 704.300L751.226 704.300L750.056 702.100zM748.885 701.501L751.055 702.101L751.055 703.101L748.885 702.501zM793.832 696.700L793.832 710.300L792.832 710.300L792.832 696.700zM794.417 696.700L794.417 710.300L793.417 710.300L793.417 696.700zM791.076 696.701L797.926 696.701L797.926 697.701L791.076 697.701zM796.926 696.701L799.681 697.301L799.681 698.301L796.926 697.701zM799.682 697.300L800.852 699.500L799.852 699.500L798.682 697.300zM800.852 698.500L801.437 700.700L800.437 700.700L799.852 698.500zM801.437 699.700L802.022 702.500L801.022 702.500L800.437 699.700zM802.022 701.500L802.022 705.500L801.022 705.500L801.022 701.500zM802.022 704.500L801.437 707.300L800.437 707.300L801.022 704.500zM801.437 706.300L800.852 708.500L799.852 708.500L800.437 706.300zM800.852 707.500L799.682 709.700L798.682 709.700L799.852 707.500zM796.926 709.301L799.681 708.701L799.681 709.701L796.926 710.301zM791.076 709.301L797.926 709.301L797.926 710.301L791.076 710.301zM796.926 696.701L799.096 697.301L799.096 698.301L796.926 697.701zM799.097 697.300L800.267 699.500L799.267 699.500L798.097 697.300zM800.267 698.500L800.852 700.700L799.852 700.700L799.267 698.500zM800.852 699.700L801.437 702.500L800.437 702.500L799.852 699.700zM801.437 701.500L801.437 705.500L800.437 705.500L800.437 701.500zM801.437 704.500L800.852 707.300L799.852 707.300L800.437 704.500zM800.852 706.300L800.267 708.500L799.267 708.500L799.852 706.300zM800.267 707.500L799.097 709.700L798.097 709.700L799.267 707.500zM796.926 709.301L799.096 708.701L799.096 709.701L796.926 710.301zM805.116 704.501L813.136 704.501L813.136 705.501L805.116 705.501zM813.137 703.300L813.137 705.500L812.137 705.500L812.137 703.300zM812.552 702.100L813.137 704.300L812.137 704.300L811.552 702.100zM811.967 701.500L812.552 703.100L811.552 703.100L810.967 701.500zM809.796 700.901L811.966 701.501L811.966 702.501L809.796 701.901zM808.041 700.901L810.796 700.901L810.796 701.901L808.041 701.901zM806.286 701.501L809.041 700.901L809.041 701.901L806.286 702.501zM807.287 701.500L806.117 703.700L805.117 703.700L806.287 701.500zM806.117 702.700L805.532 705.500L804.532 705.500L805.117 702.700zM805.532 704.500L805.532 706.700L804.532 706.700L804.532 704.500zM805.532 705.700L806.117 708.500L805.117 708.500L804.532 705.700zM806.117 707.500L807.287 709.700L806.287 709.700L805.117 707.500zM806.286 708.701L809.041 709.301L809.041 710.301L806.286 709.701zM808.041 709.301L810.211 709.301L810.211 710.301L808.041 710.301zM809.211 709.301L811.966 708.701L811.966 709.701L809.211 710.301zM813.137 707.500L811.967 709.700L810.967 709.700L812.137 707.500zM812.552 702.700L812.552 705.500L811.552 705.500L811.552 702.700zM811.967 701.500L812.552 703.700L811.552 703.700L810.967 701.500zM806.871 701.501L809.041 700.901L809.041 701.901L806.871 702.501zM807.872 701.500L806.702 703.700L805.702 703.700L806.872 701.500zM806.702 702.700L806.117 705.500L805.117 705.500L805.702 702.700zM806.117 704.500L806.117 706.700L805.117 706.700L805.117 704.500zM806.117 705.700L806.702 708.500L805.702 708.500L805.117 705.700zM806.702 707.500L807.872 709.700L806.872 709.700L805.702 707.500zM806.871 708.701L809.041 709.301L809.041 710.301L806.871 709.701zM823.667 702.700L823.082 704.300L822.082 704.300L822.667 702.700zM823.082 703.300L823.667 704.900L822.667 704.900L822.082 703.300zM824.252 703.300L823.667 704.900L822.667 704.900L823.252 703.300zM824.252 702.700L824.252 704.300L823.252 704.300L823.252 702.700zM823.082 701.500L824.252 703.700L823.252 703.700L822.082 701.500zM820.911 700.901L823.081 701.501L823.081 702.501L820.911 701.901zM819.156 700.901L821.911 700.901L821.911 701.901L819.156 701.901zM817.401 701.501L820.156 700.901L820.156 701.901L817.401 702.501zM818.402 701.500L817.232 703.700L816.232 703.700L817.402 701.500zM817.232 702.700L816.647 705.500L815.647 705.500L816.232 702.700zM816.647 704.500L816.647 706.700L815.647 706.700L815.647 704.500zM816.647 705.700L817.232 708.500L816.232 708.500L815.647 705.700zM817.232 707.500L818.402 709.700L817.402 709.700L816.232 707.500zM817.401 708.701L820.156 709.301L820.156 710.301L817.401 709.701zM819.156 709.301L821.326 709.301L821.326 710.301L819.156 710.301zM820.326 709.301L823.081 708.701L823.081 709.701L820.326 710.301zM824.252 707.500L823.082 709.700L822.082 709.700L823.252 707.500zM817.986 701.501L820.156 700.901L820.156 701.901L817.986 702.501zM818.987 701.500L817.817 703.700L816.817 703.700L817.987 701.500zM817.817 702.700L817.232 705.500L816.232 705.500L816.817 702.700zM817.232 704.500L817.232 706.700L816.232 706.700L816.232 704.500zM817.232 705.700L817.817 708.500L816.817 708.500L816.232 705.700zM817.817 707.500L818.987 709.700L817.987 709.700L816.817 707.500zM817.986 708.701L820.156 709.301L820.156 710.301L817.986 709.701zM837.707 699.100L838.292 700.700L837.292 700.700L836.707 699.100zM838.292 699.700L837.707 701.300L836.707 701.300L837.292 699.700zM837.122 699.700L837.707 701.300L836.707 701.300L836.122 699.700zM837.122 699.100L837.122 700.700L836.122 700.700L836.122 699.100zM837.707 697.900L837.122 700.100L836.122 700.100L836.707 697.900zM838.292 697.300L837.707 698.900L836.707 698.900L837.292 697.300zM837.291 697.301L840.046 696.701L840.046 697.701L837.291 698.301zM839.046 696.701L842.386 696.701L842.386 697.701L839.046 697.701zM841.386 696.701L844.141 697.301L844.141 698.301L841.386 697.701zM844.142 697.300L844.727 698.900L843.727 698.900L843.142 697.300zM844.727 697.900L845.312 700.100L844.312 700.100L843.727 697.900zM845.312 699.100L845.312 701.300L844.312 701.300L844.312 699.100zM845.312 700.300L844.727 702.500L843.727 702.500L844.312 700.300zM841.971 702.701L844.726 701.501L844.726 702.501L841.971 703.701zM839.046 703.901L842.971 702.701L842.971 703.701L839.046 704.901zM837.876 704.501L840.046 703.901L840.046 704.901L837.876 705.501zM838.877 704.500L837.707 706.700L836.707 706.700L837.877 704.500zM837.707 705.700L837.122 708.500L836.122 708.500L836.707 705.700zM837.122 707.500L837.122 710.300L836.122 710.300L836.122 707.500zM841.386 696.701L843.556 697.301L843.556 698.301L841.386 697.701zM843.557 697.300L844.142 698.900L843.142 698.900L842.557 697.300zM844.142 697.900L844.727 700.100L843.727 700.100L843.142 697.900zM844.727 699.100L844.727 701.300L843.727 701.300L843.727 699.100zM844.727 700.300L844.142 702.500L843.142 702.500L843.727 700.300zM841.386 702.701L844.141 701.501L844.141 702.501L841.386 703.701zM839.046 703.901L842.386 702.701L842.386 703.701L839.046 704.901zM837.707 707.500L837.122 709.100L836.122 709.100L836.707 707.500zM836.706 707.501L838.876 707.501L838.876 708.501L836.706 708.501zM837.876 707.501L841.801 708.701L841.801 709.701L837.876 708.501zM840.801 708.701L843.556 708.701L843.556 709.701L840.801 709.701zM842.556 708.701L844.726 708.101L844.726 709.101L842.556 709.701zM845.312 707.500L844.727 709.100L843.727 709.100L844.312 707.500zM837.876 707.501L841.801 709.301L841.801 710.301L837.876 708.501zM840.801 709.301L844.141 709.301L844.141 710.301L840.801 710.301zM844.727 708.700L844.142 710.300L843.142 710.300L843.727 708.700zM845.312 707.500L844.727 709.700L843.727 709.700L844.312 707.500zM845.312 706.300L845.312 708.500L844.312 708.500L844.312 706.300zM855.842 698.500L855.257 700.100L854.257 700.100L854.842 698.500zM855.257 699.100L855.842 700.700L854.842 700.700L854.257 699.100zM856.427 699.100L855.842 700.700L854.842 700.700L855.427 699.100zM856.427 698.500L856.427 700.100L855.427 700.100L855.427 698.500zM855.842 697.300L856.427 699.500L855.427 699.500L854.842 697.300zM853.671 696.701L855.841 697.301L855.841 698.301L853.671 697.701zM851.916 696.701L854.671 696.701L854.671 697.701L851.916 697.701zM850.161 697.301L852.916 696.701L852.916 697.701L850.161 698.301zM851.162 697.300L849.992 699.500L848.992 699.500L850.162 697.300zM849.992 698.500L849.407 700.700L848.407 700.700L848.992 698.500zM849.407 699.700L848.822 703.100L847.822 703.100L848.407 699.700zM848.822 702.100L848.822 706.700L847.822 706.700L847.822 702.100zM848.822 705.700L849.407 708.500L848.407 708.500L847.822 705.700zM849.407 707.500L850.577 709.700L849.577 709.700L848.407 707.500zM849.576 708.701L852.331 709.301L852.331 710.301L849.576 709.701zM851.331 709.301L853.501 709.301L853.501 710.301L851.331 710.301zM852.501 709.301L855.256 708.701L855.256 709.701L852.501 710.301zM856.427 707.500L855.257 709.700L854.257 709.700L855.427 707.500zM857.012 705.700L856.427 708.500L855.427 708.500L856.012 705.700zM857.012 705.100L857.012 706.700L856.012 706.700L856.012 705.100zM856.427 703.300L857.012 706.100L856.012 706.100L855.427 703.300zM855.257 702.100L856.427 704.300L855.427 704.300L854.257 702.100zM852.501 701.501L855.256 702.101L855.256 703.101L852.501 702.501zM851.916 701.501L853.501 701.501L853.501 702.501L851.916 702.501zM850.161 702.101L852.916 701.501L852.916 702.501L850.161 703.101zM851.162 702.100L849.992 704.300L848.992 704.300L850.162 702.100zM849.992 703.300L849.407 706.100L848.407 706.100L848.992 703.300zM850.746 697.301L852.916 696.701L852.916 697.701L850.746 698.301zM851.747 697.300L850.577 699.500L849.577 699.500L850.747 697.300zM850.577 698.500L849.992 700.700L848.992 700.700L849.577 698.500zM849.992 699.700L849.407 703.100L848.407 703.100L848.992 699.700zM849.407 702.100L849.407 706.700L848.407 706.700L848.407 702.100zM849.407 705.700L849.992 708.500L848.992 708.500L848.407 705.700zM849.992 707.500L851.162 709.700L850.162 709.700L848.992 707.500zM850.161 708.701L852.331 709.301L852.331 710.301L850.161 709.701zM852.501 709.301L854.671 708.701L854.671 709.701L852.501 710.301zM855.842 707.500L854.672 709.700L853.672 709.700L854.842 707.500zM856.427 705.700L855.842 708.500L854.842 708.500L855.427 705.700zM856.427 705.100L856.427 706.700L855.427 706.700L855.427 705.100zM855.842 703.300L856.427 706.100L855.427 706.100L854.842 703.300zM854.672 702.100L855.842 704.300L854.842 704.300L853.672 702.100zM852.501 701.501L854.671 702.101L854.671 703.101L852.501 702.501zM870.831 699.100L871.415 700.700L870.415 700.700L869.831 699.100zM871.415 699.700L870.831 701.300L869.831 701.300L870.415 699.700zM870.245 699.700L870.831 701.300L869.831 701.300L869.245 699.700zM870.245 699.100L870.245 700.700L869.245 700.700L869.245 699.100zM870.831 697.900L870.245 700.100L869.245 700.100L869.831 697.900zM871.415 697.300L870.831 698.900L869.831 698.900L870.415 697.300zM870.414 697.301L873.169 696.701L873.169 697.701L870.414 698.301zM872.169 696.701L875.510 696.701L875.510 697.701L872.169 697.701zM874.510 696.701L877.264 697.301L877.264 698.301L874.510 697.701zM877.265 697.300L877.851 698.900L876.851 698.900L876.265 697.300zM877.851 697.900L878.436 700.100L877.436 700.100L876.851 697.900zM878.436 699.100L878.436 701.300L877.436 701.300L877.436 699.100zM878.436 700.300L877.851 702.500L876.851 702.500L877.436 700.300zM875.095 702.701L877.850 701.501L877.850 702.501L875.095 703.701zM872.169 703.901L876.095 702.701L876.095 703.701L872.169 704.901zM871 704.501L873.169 703.901L873.169 704.901L871 705.501zM872 704.500L870.831 706.700L869.831 706.700L871 704.500zM870.831 705.700L870.245 708.500L869.245 708.500L869.831 705.700zM870.245 707.500L870.245 710.300L869.245 710.300L869.245 707.500zM874.510 696.701L876.680 697.301L876.680 698.301L874.510 697.701zM876.681 697.300L877.265 698.900L876.265 698.900L875.681 697.300zM877.265 697.900L877.851 700.100L876.851 700.100L876.265 697.900zM877.851 699.100L877.851 701.300L876.851 701.300L876.851 699.100zM877.851 700.300L877.265 702.500L876.265 702.500L876.851 700.300zM874.510 702.701L877.264 701.501L877.264 702.501L874.510 703.701zM872.169 703.901L875.510 702.701L875.510 703.701L872.169 704.901zM870.831 707.500L870.245 709.100L869.245 709.100L869.831 707.500zM869.830 707.501L872 707.501L872 708.501L869.830 708.501zM871 707.501L874.924 708.701L874.924 709.701L871 708.501zM873.924 708.701L876.680 708.701L876.680 709.701L873.924 709.701zM875.680 708.701L877.850 708.101L877.850 709.101L875.680 709.701zM878.436 707.500L877.851 709.100L876.851 709.100L877.436 707.500zM871 707.501L874.924 709.301L874.924 710.301L871 708.501zM873.924 709.301L877.264 709.301L877.264 710.301L873.924 710.301zM877.851 708.700L877.265 710.300L876.265 710.300L876.851 708.700zM878.436 707.500L877.851 709.700L876.851 709.700L877.436 707.500zM878.436 706.300L878.436 708.500L877.436 708.500L877.436 706.300zM882.700 697.301L885.455 696.701L885.455 697.701L882.700 698.301zM883.701 697.300L882.530 700.100L881.530 700.100L882.701 697.300zM882.530 699.100L881.946 703.100L880.946 703.100L881.530 699.100zM881.946 702.100L881.946 704.900L880.946 704.900L880.946 702.100zM881.946 703.900L882.530 707.900L881.530 707.900L880.946 703.900zM882.530 706.900L883.701 709.700L882.701 709.700L881.530 706.900zM882.700 708.701L885.455 709.301L885.455 710.301L882.700 709.701zM884.455 709.301L886.625 709.301L886.625 710.301L884.455 710.301zM885.625 709.301L888.380 708.701L888.380 709.701L885.625 710.301zM889.550 706.900L888.380 709.700L887.380 709.700L888.550 706.900zM890.135 703.900L889.550 707.900L888.550 707.900L889.135 703.900zM890.135 702.100L890.135 704.900L889.135 704.900L889.135 702.100zM889.550 699.100L890.135 703.100L889.135 703.100L888.550 699.100zM888.380 697.300L889.550 700.100L888.550 700.100L887.380 697.300zM885.625 696.701L888.380 697.301L888.380 698.301L885.625 697.701zM884.455 696.701L886.625 696.701L886.625 697.701L884.455 697.701zM883.284 697.301L885.455 696.701L885.455 697.701L883.284 698.301zM884.285 697.300L883.701 698.900L882.701 698.900L883.285 697.300zM883.701 697.900L883.115 700.100L882.115 700.100L882.701 697.900zM883.115 699.100L882.530 703.100L881.530 703.100L882.115 699.100zM882.530 702.100L882.530 704.900L881.530 704.900L881.530 702.100zM882.530 703.900L883.115 707.900L882.115 707.900L881.530 703.900zM883.115 706.900L883.701 709.100L882.701 709.100L882.115 706.900zM883.701 708.100L884.285 709.700L883.285 709.700L882.701 708.100zM883.284 708.701L885.455 709.301L885.455 710.301L883.284 709.701zM885.625 709.301L887.794 708.701L887.794 709.701L885.625 710.301zM888.380 708.100L887.795 709.700L886.795 709.700L887.380 708.100zM888.966 706.900L888.380 709.100L887.380 709.100L887.966 706.900zM889.550 703.900L888.966 707.900L887.966 707.900L888.550 703.900zM889.550 702.100L889.550 704.900L888.550 704.900L888.550 702.100zM888.966 699.100L889.550 703.100L888.550 703.100L887.966 699.100zM888.380 697.900L888.966 700.100L887.966 700.100L887.380 697.900zM887.795 697.300L888.380 698.900L887.380 698.900L886.795 697.300zM885.625 696.701L887.794 697.301L887.794 698.301L885.625 697.701zM894.399 699.101L896.570 698.501L896.570 699.501L894.399 700.101zM898.326 696.700L896.571 699.500L895.571 699.500L897.326 696.700zM898.326 696.700L898.326 710.300L897.326 710.300L897.326 696.700zM897.740 697.300L897.740 710.300L896.740 710.300L896.740 697.300zM894.399 709.301L900.664 709.301L900.664 710.301L894.399 710.301zM905.514 697.301L908.269 696.701L908.269 697.701L905.514 698.301zM906.515 697.300L905.930 699.500L904.930 699.500L905.515 697.300zM905.930 698.500L905.930 701.300L904.930 701.300L904.930 698.500zM905.930 700.300L906.515 702.500L905.515 702.500L904.930 700.300zM905.514 701.501L908.269 702.101L908.269 703.101L905.514 702.501zM907.269 702.101L910.610 702.101L910.610 703.101L907.269 703.101zM909.610 702.101L912.365 701.501L912.365 702.501L909.610 703.101zM912.951 700.300L912.365 702.500L911.365 702.500L911.951 700.300zM912.951 698.500L912.951 701.300L911.951 701.300L911.951 698.500zM912.365 697.300L912.951 699.500L911.951 699.500L911.365 697.300zM909.610 696.701L912.365 697.301L912.365 698.301L909.610 697.701zM907.269 696.701L910.610 696.701L910.610 697.701L907.269 697.701zM906.100 697.301L908.269 696.701L908.269 697.701L906.100 698.301zM907.101 697.300L906.515 699.500L905.515 699.500L906.101 697.300zM906.515 698.500L906.515 701.300L905.515 701.300L905.515 698.500zM906.515 700.300L907.101 702.500L906.101 702.500L905.515 700.300zM906.100 701.501L908.269 702.101L908.269 703.101L906.100 702.501zM909.610 702.101L911.779 701.501L911.779 702.501L909.610 703.101zM912.365 700.300L911.780 702.500L910.780 702.500L911.365 700.300zM912.365 698.500L912.365 701.300L911.365 701.300L911.365 698.500zM911.780 697.300L912.365 699.500L911.365 699.500L910.780 697.300zM909.610 696.701L911.779 697.301L911.779 698.301L909.610 697.701zM905.514 702.701L908.269 702.101L908.269 703.101L905.514 703.701zM906.515 702.700L905.930 704.300L904.930 704.300L905.515 702.700zM905.930 703.300L905.346 705.500L904.346 705.500L904.930 703.300zM905.346 704.500L905.346 707.900L904.346 707.900L904.346 704.500zM905.346 706.900L905.930 709.100L904.930 709.100L904.346 706.900zM905.930 708.100L906.515 709.700L905.515 709.700L904.930 708.100zM905.514 708.701L908.269 709.301L908.269 710.301L905.514 709.701zM907.269 709.301L910.610 709.301L910.610 710.301L907.269 710.301zM909.610 709.301L912.365 708.701L912.365 709.701L909.610 710.301zM912.951 708.100L912.365 709.700L911.365 709.700L911.951 708.100zM913.535 706.900L912.951 709.100L911.951 709.100L912.535 706.900zM913.535 704.500L913.535 707.900L912.535 707.900L912.535 704.500zM912.951 703.300L913.535 705.500L912.535 705.500L911.951 703.300zM912.365 702.700L912.951 704.300L911.951 704.300L911.365 702.700zM909.610 702.101L912.365 702.701L912.365 703.701L909.610 703.101zM906.100 702.701L908.269 702.101L908.269 703.101L906.100 703.701zM907.101 702.700L906.515 704.300L905.515 704.300L906.101 702.700zM906.515 703.300L905.930 705.500L904.930 705.500L905.515 703.300zM905.930 704.500L905.930 707.900L904.930 707.900L904.930 704.500zM905.930 706.900L906.515 709.100L905.515 709.100L904.930 706.900zM906.515 708.100L907.101 709.700L906.101 709.700L905.515 708.100zM906.100 708.701L908.269 709.301L908.269 710.301L906.100 709.701zM909.610 709.301L911.779 708.701L911.779 709.701L909.610 710.301zM912.365 708.100L911.780 709.700L910.780 709.700L911.365 708.100zM912.951 706.900L912.365 709.100L911.365 709.100L911.951 706.900zM912.951 704.500L912.951 707.900L911.951 707.900L911.951 704.500zM912.365 703.300L912.951 705.500L911.951 705.500L911.365 703.300zM911.780 702.700L912.365 704.300L911.365 704.300L910.780 702.700zM909.610 702.101L911.779 702.701L911.779 703.701L909.610 703.101zM930.500 696.700L930.500 707.900L929.500 707.900L929.500 696.700zM930.500 706.900L929.915 709.700L928.915 709.700L929.500 706.900zM927.745 709.301L929.914 708.701L929.914 709.701L927.745 710.301zM926.575 709.301L928.745 709.301L928.745 710.301L926.575 710.301zM925.404 708.701L927.575 709.301L927.575 710.301L925.404 709.701zM925.821 707.500L926.405 709.700L925.405 709.700L924.821 707.500zM925.821 706.300L925.821 708.500L924.821 708.500L924.821 706.300zM926.405 705.700L925.821 707.300L924.821 707.300L925.405 705.700zM926.405 705.700L926.990 707.300L925.990 707.300L925.405 705.700zM926.990 706.300L926.405 707.900L925.405 707.900L925.990 706.300zM929.915 696.700L929.915 707.900L928.915 707.900L928.915 696.700zM929.915 706.900L929.331 709.700L928.331 709.700L928.915 706.900zM929.331 708.700L928.745 710.300L927.745 710.300L928.331 708.700zM927.159 696.701L932.255 696.701L932.255 697.701L927.159 697.701zM936.351 702.100L936.351 703.700L935.351 703.700L935.351 702.100zM934.764 702.701L936.350 702.701L936.350 703.701L934.764 703.701zM935.765 702.100L935.765 703.700L934.765 703.700L934.765 702.100zM936.351 701.500L935.765 703.100L934.765 703.100L935.351 701.500zM935.350 701.501L937.519 700.901L937.519 701.901L935.350 702.501zM936.519 700.901L939.860 700.901L939.860 701.901L936.519 701.901zM938.860 700.901L941.029 701.501L941.029 702.501L938.860 701.901zM941.030 701.500L941.615 703.100L940.615 703.100L940.030 701.500zM941.615 702.100L942.201 704.300L941.201 704.300L940.615 702.100zM942.201 703.300L942.201 708.500L941.201 708.500L941.201 703.300zM942.201 707.500L942.785 709.700L941.785 709.700L941.201 707.500zM942.785 708.700L943.370 710.300L942.370 710.300L941.785 708.700zM941.615 702.100L941.615 708.500L940.615 708.500L940.615 702.100zM941.615 707.500L942.201 709.700L941.201 709.700L940.615 707.500zM941.200 708.701L943.370 709.301L943.370 710.301L941.200 709.701zM942.370 709.301L943.955 709.301L943.955 710.301L942.370 710.301zM941.615 703.300L941.030 704.900L940.030 704.900L940.615 703.300zM936.519 704.501L941.029 703.901L941.029 704.901L936.519 705.501zM934.764 705.101L937.519 704.501L937.519 705.501L934.764 706.101zM935.765 705.100L935.180 707.300L934.180 707.300L934.765 705.100zM935.180 706.300L935.180 708.500L934.180 708.500L934.180 706.300zM935.180 707.500L935.765 709.700L934.765 709.700L934.180 707.500zM934.764 708.701L937.519 709.301L937.519 710.301L934.764 709.701zM936.519 709.301L939.274 709.301L939.274 710.301L936.519 710.301zM938.274 709.301L940.445 708.701L940.445 709.701L938.274 710.301zM941.615 707.500L940.446 709.700L939.446 709.700L940.615 707.500zM935.350 705.101L937.519 704.501L937.519 705.501L935.350 706.101zM936.351 705.100L935.765 707.300L934.765 707.300L935.351 705.100zM935.765 706.300L935.765 708.500L934.765 708.500L934.765 706.300zM935.765 707.500L936.351 709.700L935.351 709.700L934.765 707.500zM935.350 708.701L937.519 709.301L937.519 710.301L935.350 709.701zM948.051 700.900L948.051 710.300L947.051 710.300L947.051 700.900zM948.635 700.900L948.635 710.300L947.635 710.300L947.635 700.900zM949.805 701.500L948.635 703.700L947.635 703.700L948.805 701.500zM948.804 701.501L951.560 700.901L951.560 701.901L948.804 702.501zM950.560 700.901L952.730 700.901L952.730 701.901L950.560 701.901zM951.730 700.901L954.485 701.501L954.485 702.501L951.730 701.901zM954.486 701.500L955.071 703.700L954.071 703.700L953.486 701.500zM955.071 702.700L955.071 710.300L954.071 710.300L954.071 702.700zM951.730 700.901L953.899 701.501L953.899 702.501L951.730 701.901zM953.900 701.500L954.486 703.700L953.486 703.700L952.900 701.500zM954.486 702.700L954.486 710.300L953.486 710.300L953.486 702.700zM945.294 700.901L948.635 700.901L948.635 701.901L945.294 701.901zM945.294 709.301L950.389 709.301L950.389 710.301L945.294 710.301zM951.730 709.301L956.825 709.301L956.825 710.301L951.730 710.301zM979.640 696.700L978.471 703.700L977.471 703.700L978.640 696.700zM979.640 701.500L978.471 703.700L977.471 703.700L978.640 701.500zM978.639 701.501L981.394 700.901L981.394 701.901L978.639 702.501zM980.394 700.901L983.149 700.901L983.149 701.901L980.394 701.901zM982.149 700.901L984.904 701.501L984.904 702.501L982.149 701.901zM984.905 701.500L986.076 703.700L985.076 703.700L983.905 701.500zM986.076 702.700L986.660 705.500L985.660 705.500L985.076 702.700zM986.660 704.500L986.660 706.700L985.660 706.700L985.660 704.500zM986.660 705.700L986.076 708.500L985.076 708.500L985.660 705.700zM986.076 707.500L984.905 709.700L983.905 709.700L985.076 707.500zM982.149 709.301L984.904 708.701L984.904 709.701L982.149 710.301zM980.394 709.301L983.149 709.301L983.149 710.301L980.394 710.301zM978.639 708.701L981.394 709.301L981.394 710.301L978.639 709.701zM979.055 708.100L979.640 709.700L978.640 709.700L978.055 708.100zM978.471 706.900L979.055 709.100L978.055 709.100L977.471 706.900zM978.471 706.300L978.471 707.900L977.471 707.900L977.471 706.300zM979.055 705.700L978.471 707.300L977.471 707.300L978.055 705.700zM979.055 705.700L979.640 707.300L978.640 707.300L978.055 705.700zM979.640 706.300L979.055 707.900L978.055 707.900L978.640 706.300zM982.149 700.901L984.320 701.501L984.320 702.501L982.149 701.901zM984.321 701.500L985.490 703.700L984.490 703.700L983.321 701.500zM985.490 702.700L986.076 705.500L985.076 705.500L984.490 702.700zM986.076 704.500L986.076 706.700L985.076 706.700L985.076 704.500zM986.076 705.700L985.490 708.500L984.490 708.500L985.076 705.700zM985.490 707.500L984.321 709.700L983.321 709.700L984.490 707.500zM982.149 709.301L984.320 708.701L984.320 709.701L982.149 710.301zM978.639 696.701L985.490 696.701L985.490 697.701L978.639 697.701zM978.639 697.301L982.564 697.301L982.564 698.301L978.639 698.301zM981.564 697.301L985.490 696.701L985.490 697.701L981.564 698.301z" fill="#0c0ca0" shape-rendering="crispEdges"/>
</svg>
<div class="t">
<span style="left:451.6px;top:20.9px;width:121.5px;height:16.1px;font-size:21.8px">Iridium 6</span>
<span style="left:478.0px;top:723.3px;width:120.1px;height:14.5px;font-size:19.6px">Time(UTC)</span>
<span style="left:6.3px;top:353.7px;width:14.4px;height:142.5px;font-size:19.4px;writing-mode:vertical-rl;transform:rotate(180deg)">Height (km)</span>
<span style="left:57.9px;top:598.2px;width:35.1px;height:12.6px;font-size:17.0px">200</span>
<span style="left:57.9px;top:459.8px;width:35.1px;height:12.6px;font-size:17.0px">400</span>
<span style="left:57.9px;top:321.4px;width:35.1px;height:12.6px;font-size:17.0px">600</span>
<span style="left:57.9px;top:183.0px;width:35.1px;height:12.6px;font-size:17.0px">800</span>
<span style="left:141.3px;top:696.7px;width:121.7px;height:12.6px;font-size:17.0px">2017 Oct 27</span>
<span style="left:272.7px;top:696.7px;width:66.1px;height:12.6px;font-size:17.0px">Nov  6</span>
<span style="left:375.1px;top:696.7px;width:68.4px;height:12.6px;font-size:17.0px">Nov 16</span>
<span style="left:478.8px;top:696.7px;width:68.4px;height:12.6px;font-size:17.0px">Nov 26</span>
<span style="left:583.8px;top:696.7px;width:65.5px;height:12.6px;font-size:17.0px">Dec  6</span>
<span style="left:686.3px;top:696.7px;width:67.9px;height:12.6px;font-size:17.0px">Dec 16</span>
<span style="left:789.9px;top:696.7px;width:67.9px;height:12.6px;font-size:17.0px">Dec 26</span>
<span style="left:867.5px;top:696.7px;width:119.9px;height:12.6px;font-size:17.0px">2018 Jan  5</span>
</div>
</body></html>
